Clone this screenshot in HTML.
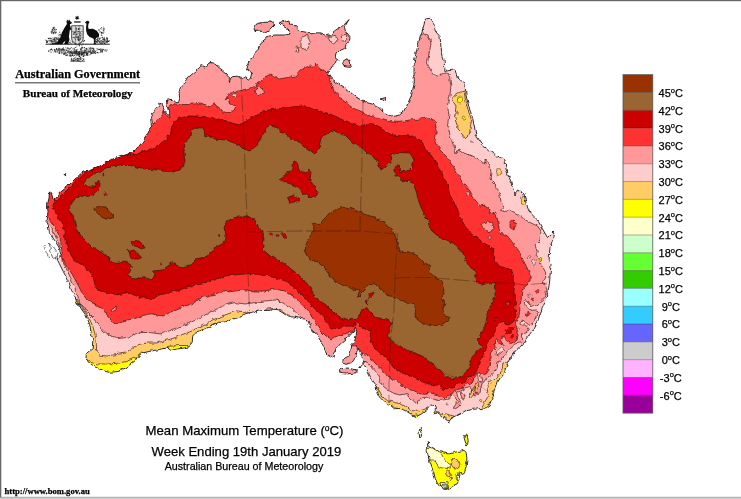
<!DOCTYPE html>
<html lang="en"><head><meta charset="utf-8"><title>Mean Maximum Temperature</title>
<style>
html,body{margin:0;padding:0;background:#fff;}
body{width:741px;height:499px;overflow:hidden;position:relative;font-family:"Liberation Sans",sans-serif;}
svg{position:absolute;left:0;top:0;display:block;}
text{font-family:"Liberation Sans",sans-serif;fill:#000;stroke:#000;stroke-width:0.25px;}
.serif{font-family:"Liberation Serif",serif;font-weight:bold;}
</style></head><body>
<svg width="741" height="499" viewBox="0 0 741 499">
<rect x="0" y="0" width="741" height="499" fill="#fff"/>

<defs><clipPath id="land"><path d="M146.5 136 L151.4 126.5 L150.6 116.7 L154.6 110.2 L160.3 102.9 L164.4 110.2 L169.2 117.5 L168.4 111 L166.8 103.7 L168.4 98.8 L173.3 100.5 L178.2 102.9 L179.8 98.8 L179 92.4 L180.6 86.7 L184.7 83.4 L187.9 77.7 L193.6 72.9 L197.6 69.6 L200.9 65.6 L205 67.2 L209.8 62.3 L213.9 63.1 L219.6 68 L226 72.9 L229.3 76.9 L229.3 82.6 L231.8 76.9 L237.4 76.1 L241.5 78.5 L245.6 76.9 L250.4 79.4 L252 72.9 L246.4 68.8 L248.8 63.1 L252 56.6 L257.5 51 L261 42.5 L269 36 L275 35 L285 35 L290 34 L288 28 L279 23 L289 20 L290 25 L297 26 L297.5 31 L307.5 32.5 L320 32.9 L326.5 36 L331.4 34.5 L336.2 30.4 L341 27.2 L346 23 L349 19.5 L344.4 27.2 L346 32.9 L350 37.7 L349.2 41.8 L346 44.2 L345.2 48.3 L341 50 L337 54 L336.2 58 L338.7 59.7 L336.2 62 L333 65.3 L329 71 L328 73.5 L332.2 79 L337.9 83.2 L344.4 87.3 L347 89.5 L352.5 94 L357 97.6 L362 100.5 L366.6 102.5 L372 104 L376.3 105.5 L380 107.5 L384.3 112.4 L388.3 114.9 L391.6 116.9 L395.6 116 L399.7 114.9 L402.9 112.4 L406.7 106 L411.5 95 L414.3 83 L414 72 L414.2 62 L416.6 50.7 L419 41 L421.5 32.9 L424 24.7 L425.5 19 L430.4 18.2 L433.7 23 L435.3 31.2 L440 36.5 L441 47.5 L444 60 L445 71 L455 70 L457.5 77.5 L465 84 L466 95 L469 107.5 L472.5 117.5 L475 130 L476 135 L482.5 145 L490 151 L497.5 156 L505 160 L506 169 L510 179 L512.5 187.5 L515 195 L517.5 190 L524 194 L526 202.5 L530 212.5 L537.5 220 L542.5 229 L547.5 237.5 L554 231 L552.5 240 L550 247.5 L549 260 L551 264.5 L550.3 272.5 L549.6 282 L548.3 290 L546.8 295 L545.2 301.6 L542.4 308.2 L539.7 314.8 L538 320.4 L534.7 327 L530.3 333.6 L525.9 340.2 L520.4 346.8 L517.5 348.7 L512 355.5 L508 362 L506 367.3 L504 372.6 L500.2 378 L497 383.2 L495 388.6 L492.8 393.9 L491.7 399.2 L489.6 404.5 L485.4 407.7 L480 408.7 L472.6 409.3 L466.2 410.9 L464.5 412 L456.4 416 L451 418.7 L448.5 424 L448.3 421.4 L444.2 418 L440.2 414.6 L437.5 412.6 L433.4 414 L435.5 409 L434 405.5 L430.5 405 L428.5 408 L426.7 410 L421.3 414 L416.6 416.7 L411.8 414.6 L406.4 411.3 L401 408.6 L394.3 408.6 L390.2 405.2 L384.8 402.5 L380.8 398.4 L376.7 391 L376 385 L373 381 L370.5 377 L368 372 L366 366.7 L363.4 365.3 L358.7 368 L361.4 364.7 L362.8 360.6 L362 356.6 L359.4 351.8 L357.8 347.8 L357 346 L357.5 350.5 L355.7 356.3 L353.4 360.8 L350.4 363 L346 364.3 L342.8 363.2 L343.2 359 L346.3 357.3 L349.2 355.8 L350.6 351.8 L351.3 348.5 L351.6 345 L354 342.4 L356 337 L356.7 331.6 L355.3 326.9 L354 330.2 L350.6 333.6 L346 339 L340.5 343.7 L335.8 349 L333 353 L334.4 358 L331 356.6 L327 354.5 L325 351 L323 346.4 L320.2 340.4 L317.5 335.6 L315.3 332.7 L312 330.6 L311.3 328.2 L310.5 325 L308.9 323.3 L308 321 L305.6 318.9 L302.4 318.9 L298.3 318 L294.3 316.9 L289.4 316.9 L286.2 315.2 L282 312.4 L278 310 L274 309.2 L270 310.4 L262.5 310.5 L250 312.5 L245 314 L235 318.5 L225 322 L217.5 322.5 L210 326 L200 331 L195 332.5 L192.7 337.4 L192 343.8 L188.7 347 L179 348.7 L170.8 350.3 L167.6 347.9 L159.4 349.5 L151.3 351 L143.2 352.8 L139 355.2 L135.9 360 L131 364 L125.3 368.2 L117.2 371.5 L109 372.3 L102.6 370.6 L94.5 366.6 L88 361.7 L86 356 L86.4 353.6 L92 348.7 L92.9 340.6 L91.2 332.5 L89.6 324.4 L86.4 316 L80.7 308 L79 303 L78 305 L74.7 296.4 L71.4 289.8 L69.2 283 L65.9 276.5 L62.5 270 L59.2 263.3 L57 259 L61.4 255.6 L59.2 247.9 L56 242.4 L51.5 235.8 L49.3 231.4 L48.2 225.9 L46.9 223.4 L47.4 218 L48 211.3 L47.4 204.5 L48.8 199 L49.4 193 L51.5 193.7 L53.5 200.5 L56.2 197.8 L60.2 192.4 L67 187 L72.4 181.6 L77.8 176.2 L83.2 172 L90 170.8 L96.7 168 L103.4 164 L110.2 160 L116 158 L122.5 156 L132.5 152.5 L140 145Z M254 29 L256.5 24 L262.5 22.5 L271 22 L275 25 L271 29 L266 32.5 L260 31 L255 31.5Z M342.7 61.3 L346.8 58.8 L350 60.5 L350.9 66.2 L347.6 66.2 L343.5 65.3Z M64.2 174 L66.4 173.6 L66.6 175.8 L64.4 176Z M380 99 L386 97.5 L385 101Z M339 370 L341.8 368.7 L347.2 368 L352.6 368.7 L357.4 370.7 L356 372.8 L351.3 373.4 L346 374 L340.5 373.4Z M419.5 429.2 L421.2 428.5 L422 431.3 L421.2 435.5 L419.8 437 L419.1 434Z M464 436.2 L465.4 435 L467.5 437.6 L468.2 440.4 L467.5 444.6 L466 446 L465.4 441.8 L464.4 439Z M428.2 442.5 L429 446 L432.4 447.4 L438 451 L443.7 453 L449.3 453.8 L454.9 452.3 L460.5 451 L464 450.2 L466 452.3 L466.8 456.6 L466.8 461.5 L465.8 467 L464.7 471.3 L462.6 474.8 L459.8 473.4 L458.4 476.2 L459 480.4 L457 484 L453.5 485.3 L452 488 L447.9 489.5 L443.7 489.2 L440.2 487.4 L437.3 483.2 L435.2 478.3 L433.8 472.7 L431.7 467 L429.6 461.5 L428 455.9 L427.1 450.2Z"/></clipPath><filter id="soft" x="-2%" y="-2%" width="104%" height="104%"><feGaussianBlur stdDeviation="0.45"/></filter><filter id="rough" x="-2%" y="-2%" width="104%" height="104%"><feTurbulence type="fractalNoise" baseFrequency="0.2" numOctaves="2" seed="3" result="n"/><feDisplacementMap in="SourceGraphic" in2="n" scale="4.2" xChannelSelector="R" yChannelSelector="G"/><feGaussianBlur stdDeviation="0.4"/></filter></defs>
<g filter="url(#rough)">
<g clip-path="url(#land)">
<path d="M146.5 136 L151.4 126.5 L150.6 116.7 L154.6 110.2 L160.3 102.9 L164.4 110.2 L169.2 117.5 L168.4 111 L166.8 103.7 L168.4 98.8 L173.3 100.5 L178.2 102.9 L179.8 98.8 L179 92.4 L180.6 86.7 L184.7 83.4 L187.9 77.7 L193.6 72.9 L197.6 69.6 L200.9 65.6 L205 67.2 L209.8 62.3 L213.9 63.1 L219.6 68 L226 72.9 L229.3 76.9 L229.3 82.6 L231.8 76.9 L237.4 76.1 L241.5 78.5 L245.6 76.9 L250.4 79.4 L252 72.9 L246.4 68.8 L248.8 63.1 L252 56.6 L257.5 51 L261 42.5 L269 36 L275 35 L285 35 L290 34 L288 28 L279 23 L289 20 L290 25 L297 26 L297.5 31 L307.5 32.5 L320 32.9 L326.5 36 L331.4 34.5 L336.2 30.4 L341 27.2 L346 23 L349 19.5 L344.4 27.2 L346 32.9 L350 37.7 L349.2 41.8 L346 44.2 L345.2 48.3 L341 50 L337 54 L336.2 58 L338.7 59.7 L336.2 62 L333 65.3 L329 71 L328 73.5 L332.2 79 L337.9 83.2 L344.4 87.3 L347 89.5 L352.5 94 L357 97.6 L362 100.5 L366.6 102.5 L372 104 L376.3 105.5 L380 107.5 L384.3 112.4 L388.3 114.9 L391.6 116.9 L395.6 116 L399.7 114.9 L402.9 112.4 L406.7 106 L411.5 95 L414.3 83 L414 72 L414.2 62 L416.6 50.7 L419 41 L421.5 32.9 L424 24.7 L425.5 19 L430.4 18.2 L433.7 23 L435.3 31.2 L440 36.5 L441 47.5 L444 60 L445 71 L455 70 L457.5 77.5 L465 84 L466 95 L469 107.5 L472.5 117.5 L475 130 L476 135 L482.5 145 L490 151 L497.5 156 L505 160 L506 169 L510 179 L512.5 187.5 L515 195 L517.5 190 L524 194 L526 202.5 L530 212.5 L537.5 220 L542.5 229 L547.5 237.5 L554 231 L552.5 240 L550 247.5 L549 260 L551 264.5 L550.3 272.5 L549.6 282 L548.3 290 L546.8 295 L545.2 301.6 L542.4 308.2 L539.7 314.8 L538 320.4 L534.7 327 L530.3 333.6 L525.9 340.2 L520.4 346.8 L517.5 348.7 L512 355.5 L508 362 L506 367.3 L504 372.6 L500.2 378 L497 383.2 L495 388.6 L492.8 393.9 L491.7 399.2 L489.6 404.5 L485.4 407.7 L480 408.7 L472.6 409.3 L466.2 410.9 L464.5 412 L456.4 416 L451 418.7 L448.5 424 L448.3 421.4 L444.2 418 L440.2 414.6 L437.5 412.6 L433.4 414 L435.5 409 L434 405.5 L430.5 405 L428.5 408 L426.7 410 L421.3 414 L416.6 416.7 L411.8 414.6 L406.4 411.3 L401 408.6 L394.3 408.6 L390.2 405.2 L384.8 402.5 L380.8 398.4 L376.7 391 L376 385 L373 381 L370.5 377 L368 372 L366 366.7 L363.4 365.3 L358.7 368 L361.4 364.7 L362.8 360.6 L362 356.6 L359.4 351.8 L357.8 347.8 L357 346 L357.5 350.5 L355.7 356.3 L353.4 360.8 L350.4 363 L346 364.3 L342.8 363.2 L343.2 359 L346.3 357.3 L349.2 355.8 L350.6 351.8 L351.3 348.5 L351.6 345 L354 342.4 L356 337 L356.7 331.6 L355.3 326.9 L354 330.2 L350.6 333.6 L346 339 L340.5 343.7 L335.8 349 L333 353 L334.4 358 L331 356.6 L327 354.5 L325 351 L323 346.4 L320.2 340.4 L317.5 335.6 L315.3 332.7 L312 330.6 L311.3 328.2 L310.5 325 L308.9 323.3 L308 321 L305.6 318.9 L302.4 318.9 L298.3 318 L294.3 316.9 L289.4 316.9 L286.2 315.2 L282 312.4 L278 310 L274 309.2 L270 310.4 L262.5 310.5 L250 312.5 L245 314 L235 318.5 L225 322 L217.5 322.5 L210 326 L200 331 L195 332.5 L192.7 337.4 L192 343.8 L188.7 347 L179 348.7 L170.8 350.3 L167.6 347.9 L159.4 349.5 L151.3 351 L143.2 352.8 L139 355.2 L135.9 360 L131 364 L125.3 368.2 L117.2 371.5 L109 372.3 L102.6 370.6 L94.5 366.6 L88 361.7 L86 356 L86.4 353.6 L92 348.7 L92.9 340.6 L91.2 332.5 L89.6 324.4 L86.4 316 L80.7 308 L79 303 L78 305 L74.7 296.4 L71.4 289.8 L69.2 283 L65.9 276.5 L62.5 270 L59.2 263.3 L57 259 L61.4 255.6 L59.2 247.9 L56 242.4 L51.5 235.8 L49.3 231.4 L48.2 225.9 L46.9 223.4 L47.4 218 L48 211.3 L47.4 204.5 L48.8 199 L49.4 193 L51.5 193.7 L53.5 200.5 L56.2 197.8 L60.2 192.4 L67 187 L72.4 181.6 L77.8 176.2 L83.2 172 L90 170.8 L96.7 168 L103.4 164 L110.2 160 L116 158 L122.5 156 L132.5 152.5 L140 145Z M254 29 L256.5 24 L262.5 22.5 L271 22 L275 25 L271 29 L266 32.5 L260 31 L255 31.5Z M342.7 61.3 L346.8 58.8 L350 60.5 L350.9 66.2 L347.6 66.2 L343.5 65.3Z M64.2 174 L66.4 173.6 L66.6 175.8 L64.4 176Z M380 99 L386 97.5 L385 101Z M339 370 L341.8 368.7 L347.2 368 L352.6 368.7 L357.4 370.7 L356 372.8 L351.3 373.4 L346 374 L340.5 373.4Z M419.5 429.2 L421.2 428.5 L422 431.3 L421.2 435.5 L419.8 437 L419.1 434Z M464 436.2 L465.4 435 L467.5 437.6 L468.2 440.4 L467.5 444.6 L466 446 L465.4 441.8 L464.4 439Z M428.2 442.5 L429 446 L432.4 447.4 L438 451 L443.7 453 L449.3 453.8 L454.9 452.3 L460.5 451 L464 450.2 L466 452.3 L466.8 456.6 L466.8 461.5 L465.8 467 L464.7 471.3 L462.6 474.8 L459.8 473.4 L458.4 476.2 L459 480.4 L457 484 L453.5 485.3 L452 488 L447.9 489.5 L443.7 489.2 L440.2 487.4 L437.3 483.2 L435.2 478.3 L433.8 472.7 L431.7 467 L429.6 461.5 L428 455.9 L427.1 450.2Z" fill="#FFCCCC"/>
<polygon points="428.2,442.5 429,446 432.4,447.4 438,451 443.7,453 449.3,453.8 454.9,452.3 460.5,451 464,450.2 466,452.3 466.8,456.6 466.8,461.5 465.8,467 464.7,471.3 462.6,474.8 459.8,473.4 458.4,476.2 459,480.4 457,484 453.5,485.3 452,488 447.9,489.5 443.7,489.2 440.2,487.4 437.3,483.2 435.2,478.3 433.8,472.7 431.7,467 429.6,461.5 428,455.9 427.1,450.2" fill="#FFFF00" stroke="none" stroke-width="0.65" stroke-linejoin="round" />
<polygon points="464,436.2 465.4,435 467.5,437.6 468.2,440.4 467.5,444.6 466,446 465.4,441.8 464.4,439" fill="#FFFF00" stroke="none" stroke-width="0.65" stroke-linejoin="round" />
<polygon points="419.5,429.2 421.2,428.5 422,431.3 421.2,435.5 419.8,437 419.1,434" fill="#FFFFCC" stroke="none" stroke-width="0.65" stroke-linejoin="round" />
<polygon points="426,446 428,447.4 432.4,448 438,451.6 441.6,454.5 443.7,458 446.5,461.5 450.7,465 451.4,467.5 448,468.5 443.7,468 439,467 437,464 435.2,461 431.5,461 428.5,458.5 425,452" fill="#FFFFCC" stroke="#30100a" stroke-width="0.65" stroke-linejoin="round" />
<polygon points="450.7,460 453.5,458 457,459.4 459.8,464.3 458.4,467 454.9,469.2 452.8,466.4 451.4,462.9" fill="#FFCC66" stroke="#30100a" stroke-width="0.65" stroke-linejoin="round" />
<polygon points="445.8,471.3 448.6,469.9 450.7,472 450,475.5 447.2,476.2 445.8,474" fill="#FFCC66" stroke="#30100a" stroke-width="0.65" stroke-linejoin="round" />
<polygon points="450,476.9 452,476.2 452.8,479 451.4,480.4 450,479" fill="#FFCC66" stroke="#30100a" stroke-width="0.65" stroke-linejoin="round" />
<polygon points="456.3,473.4 458.4,472.7 459,478.3 457.7,481 456.3,479" fill="#FFFFCC" stroke="#30100a" stroke-width="0.65" stroke-linejoin="round" />
<polygon points="440.2,482.5 447.9,482.5 448.6,487.4 445,488.8 440.9,487.4" fill="#FFFFCC" stroke="#30100a" stroke-width="0.65" stroke-linejoin="round" />
<polygon points="442.5,484.2 447.2,484.2 447.6,487.4 445,488 443,486.7" fill="#CCFFCC" stroke="#30100a" stroke-width="0.65" stroke-linejoin="round" />
<polygon points="444.8,485.8 446.8,485.8 446.8,487.5 444.8,487.5" fill="#66FF33" stroke="#30100a" stroke-width="0.65" stroke-linejoin="round" />
<polygon points="76,299 79.5,302 83,309 88.6,317.3 92.6,325.6 95,334 96.3,342.2 96.6,350.3 99.4,355.2 107.5,356 117.2,354.4 127,352.8 132.6,348.7 138.3,344.7 146.5,343 156.2,343 166,340.6 175.7,337.4 185.4,333.3 195,329.2 205,325 212.5,320 225,315 235,311.4 242,312.6 247.8,312 252,318 230,330 200,345 130,385 75,375 70,300" fill="#FFCC66" stroke="#30100a" stroke-width="0.65" stroke-linejoin="round" />
<polygon points="84,355 88,359.3 91.2,362.5 97.7,364 107.5,364 117.2,363.3 125.3,361.7 131.8,359.3 135.9,356.8 139,354.4 141.6,352 146,353 140,365 110,380 84,370" fill="#FFFF00" stroke="#30100a" stroke-width="0.65" stroke-linejoin="round" />
<polygon points="168.4,346.3 178,345.6 187,345.5 190,348 188,352 168,352" fill="#FFFF00" stroke="#30100a" stroke-width="0.65" stroke-linejoin="round" />
<polygon points="266,309 273.6,308.5 272,312 266,312" fill="#FFCC66" stroke="#30100a" stroke-width="0.65" stroke-linejoin="round" />
<polygon points="279,309.2 282,310.8 286.2,313.6 290.4,316.3 289,319 278,312" fill="#FFCC66" stroke="#30100a" stroke-width="0.65" stroke-linejoin="round" />
<polygon points="338,369 342.5,368 342,375 338,375" fill="#FFCC66" stroke="#30100a" stroke-width="0.65" stroke-linejoin="round" />
<polygon points="354,369 358,370 357,374 353.5,374" fill="#FFCC66" stroke="#30100a" stroke-width="0.65" stroke-linejoin="round" />
<polygon points="327,353 331,355.2 335,357 335,360 326,357" fill="#FFCC66" stroke="#30100a" stroke-width="0.65" stroke-linejoin="round" />
<polygon points="454,96 459,92.5 464,91 465.5,100 468,110 471.5,120 470,130 468.5,136.5 466,139 464.4,137.3 462,134 458,130 457.5,122.5 455,115 456,106 452.5,100" fill="#FFCC66" stroke="#30100a" stroke-width="0.65" stroke-linejoin="round" />
<polygon points="372,385 376,385.6 379.4,391 382.8,397 387.5,400.5 394.3,402.5 401,403.8 406.4,407.2 411.8,410.6 417.2,411.3 422.6,410 428,407.9 436,411.3 440.2,412.6 445.6,414 451,415.3 455,416 456,425 440,432 370,415" fill="#FFCC66" stroke="#30100a" stroke-width="0.65" stroke-linejoin="round" />
<polygon points="502.9,363 502.4,368.4 500.2,372.6 497,376.9 493.9,380 491.7,382.2 489.6,380 487.5,381 488,385.4 486.4,389.6 487,393.3 488.6,395 486.4,399.2 483.2,404.5 481,408.2 481,415 515,415 515,360" fill="#FFCC66" stroke="#30100a" stroke-width="0.65" stroke-linejoin="round" />
<polygon points="40,222 48.2,223.7 51.5,228 54.8,234.7 58,242.4 59.7,246.8 62.5,250 63,256 63,261 64.8,265.5 69.3,275.2 73.6,285.2 77,294 80,302.5 84.7,309.7 92.9,317.9 99.4,326 104.2,332.5 112.4,336.5 122,338.2 130.2,336.5 140,332.5 149.7,332.5 161,334 169.2,330.9 179,326.8 188.7,323.5 195,320.3 200,317.5 210,312.5 220,307.5 225,305 235,302.5 245,304 255,302.5 265,301 275,300 279.7,301 284.6,304 289.4,307 294.3,310.8 298.3,314.4 301.2,317.7 302.4,320 300,330 314,365 335,382 360,382 362,366 363.4,364 364,361.3 367.5,362.6 371.5,366.7 375.6,371.4 378.5,377 380,381 382.5,385.5 387.5,389.7 393,393 399.7,395 403.7,394.4 407,393.7 408.5,397 413.2,400.5 416.6,403.8 418.6,401 422.6,397.8 428,397 433.4,399 438.8,400.5 444.2,399.8 449.6,399 451,394 459.9,391 464,389.5 469.4,387 472,390 473.7,393.9 474.7,396 478,395 480,391.7 481,387.5 482.2,383.2 485.4,380 488.6,378 491.7,374.7 495,371.6 497,367.3 498,362 501.3,361 505.3,355.5 509.4,348.7 514.8,344 520,343 526,342 523,339 521.5,336.9 521.5,332.5 523.7,333.6 527,332.5 529.2,329.2 527.5,327 524.8,324.8 522,325.3 519.8,323.7 520.9,321.5 523.7,320.4 525.9,322.6 529.2,325.3 532,324.2 533.6,321.5 535.8,317 537.4,313.7 539,311.5 536.3,309.9 532.5,310.4 528,308.8 525.3,305.5 524.2,301.6 525.5,299.5 527,300.5 529.2,304.4 533,306 536.9,305 540.2,302.2 543.5,299.4 545,295.5 547,290 545.6,285 541.5,283 543.5,280.6 545.6,278 545.6,272.5 542.9,267 538.8,260.4 536,255 537.5,252.5 535,245 540,240 541,231 537.5,226 530,222.5 524,219 517.5,214 510,210 505,212.5 501,211 504,207.5 501,202.5 500,195 496,185 490,179 491,172.5 490,165 485,159 485,164 477.5,159 467.5,154 459,149 456,154 454,145 450,135 447.5,125 449,115 447.5,105 450,95 451,85 449,74 445,72.5 437.5,76 432.5,74 427.5,64 429,54 431,44 429,36 424,34 420,32 400,0 140,0 40,180" fill="#FF9999" stroke="#30100a" stroke-width="0.65" stroke-linejoin="round" />
<polygon points="40,215 48.2,218 52.6,223.7 57,231.4 60.3,239 61.4,247.9 62.5,256.7 66,265.5 72,274 77,283 81.5,292 87,300 96,304.9 104.2,309.7 107.5,316.2 114,323.5 123.7,321 133.5,318.7 143.2,315.4 151.3,313.8 162.7,316.2 169.2,313 179,309 188.7,304.9 195,301.6 202.5,297.5 215,294 225,290.5 235,291 245,290 255,291 265,291 275,289 285,291 295,297.5 302.5,305 310,314 316,324 321,331 326,336 331,339 337.5,336 344,334 350,332.5 355,330 352,340 350,346 356.7,345.8 360,350.5 362,354.5 366,353.9 370.2,356.6 374.2,362 378.3,366.7 382.3,370.7 386.4,374.8 387.7,377 393,379.5 398.3,382.2 403.7,386.3 409,389 414.5,391 420,393.7 425.3,394.4 430.7,393 436,394.4 440.2,396.4 445.6,397.8 448.2,396 452.4,392.8 455.6,390 459.9,389 464,387.5 465.2,384.8 467.3,382.2 469.4,384.8 471.6,383.2 473.7,379 475.8,376.9 476.9,373.7 479,371.6 481,372.6 484.3,374.7 486.4,373.7 488.6,370.5 490,366.2 490.7,362 489.8,359.5 490.5,354 493.2,350.8 495.2,347.4 494.5,342 496.6,338.6 498.6,342 501,344.5 503.8,344 501.3,340 503.8,335.8 505.5,338.5 507,341.9 510.4,343.5 513.7,342.4 517,340.2 518.2,335.8 517,332.5 517.6,328 516,325.9 516.5,321.5 518.7,317 519.8,311.5 519.8,306 521,300.5 521.5,295 522,290 523.3,289.4 526,286.7 528,282 531.4,278 530,274 526.7,267 523.3,260.4 521,255 517.5,249 512.5,242.5 507.5,236 500,234 499,227.5 497.5,219 494,212.5 489,214 490,209 485,205 480,206 475,200 470,191 465,185 460,177.5 452.5,165 447.5,157.5 440,150 435,142.5 436,135 436,127.5 435,121 430,117.5 420,119 411.8,119.7 403.7,121 396.4,121.3 389,120.5 382.7,118.9 376.2,116.9 370.5,115.3 366.5,115.7 363.2,112.4 360,110.8 355,109 350,106 342.5,100 335,92.5 330,82.5 329,75 325,71 320,69 316,64 314,66 307.5,66 300,70 295,76 287.5,77.5 279,79 274,76 271,74 269,75 264,77.5 260,82.5 252.5,87.5 242.5,90 237.4,91.5 231,93.2 227.7,95.6 225.3,99.7 228.5,98.8 229.3,103.7 232.6,105.3 235.8,106 234.2,110.2 229.3,112.6 222.8,111.8 218,107.8 214.7,103.7 209.8,107 205,104.5 196.8,103.7 188.7,104.5 180.6,104.5 174,103.7 168.4,107 169.5,112 170,119 166,117 164.4,110.2 162.7,113.5 156,121.5 151.4,126.5 148,132 146.5,136 138,132 40,185" fill="#FF3333" stroke="#30100a" stroke-width="0.65" stroke-linejoin="round" />
<polygon points="167.5,135 165,141 157.5,146 147.5,150 140,152.5 132.5,155 126,153 100,160 88,168 84.5,172.8 79,177.5 73.7,183 69.7,188.3 65.6,192.4 60.2,197 56.2,199.8 53.5,201.8 52.8,207.2 55.5,212.6 58.2,218 61.6,223.4 63.6,227 65,240 68,250 74,260 86,267.5 92.5,275 95,285 99,291 107.5,292.5 117.5,295 127.5,292.5 140,297.5 150,299 160,295 170,292.5 180,290 190,286 202.5,284 215,280 225,276 235,275 245,274 255,274 265,276 275,277.5 285,281 292.5,286 300,294 307.5,301 315,309 322.5,316 327.5,324 330,327.5 337.5,329 346,326.2 354,326.2 356,322.8 358.7,322 360,326.2 363.4,328.2 367.5,330.2 370.9,331 370.2,335 371.5,341 373.5,346.4 378.3,351.8 383.7,355.9 389,361.3 394.3,367.4 399.7,371.4 406.4,374.8 413.2,377.5 420,380.9 426.7,383.6 433.4,385 438.8,385.6 441.5,388.3 445,389.6 447,390 450.3,387.5 454.6,386.4 455.6,384.3 459.9,382.2 464,383.2 466.2,381 469.4,378 472.6,376.9 475.8,373.7 476.3,370.5 479,366.2 480,362 481.7,358 485,351.4 487,346 489,340.6 493.2,335.2 495.9,329.8 495,328 496.7,325.3 499.4,322.6 502.7,321.5 505,323.7 508.2,325.3 512.6,322.6 515.4,319.3 516,314.8 514.8,308.2 515.4,301.6 515.4,295 513.9,292.8 514.5,286 513.2,280.6 513.2,274 510.5,269.8 505,267.8 499,265.8 495.6,260.4 493,255 494,249 487.5,245 480,240 472.5,234 466,227.5 461,219 457.5,210 454,202.5 450,195 447.5,185 442.5,175 437.5,165 431,155 425,147.5 420,139.5 416.7,137.5 411.8,135.9 405.3,135.5 398.9,135.5 392.4,134.7 386.7,132.3 381,128.6 374.6,125 369.7,123 364.9,124.6 360,126.5 355,124 349.6,122 340,119 330,115 320,111 310,107.5 300,106 287.5,107.5 275,109 262.5,111 253.7,116.7 245.6,121.6 239,124.8 232.6,123.2 226,120.8 216.3,118.3 206.6,116.7 196.8,116 187,116 177.4,119 171.7,126.5 170,136" fill="#CC0000" stroke="#30100a" stroke-width="0.65" stroke-linejoin="round" />
<polygon points="191,136 192,129.7 196,127.7 202.5,128 204,131.3 205,136 207.5,135 215,139 225,140 240,145 244,149 250,151 257.5,145 262.5,135 269,125 275,126 282.5,132.5 287.5,135 291,139 300,142.5 307.5,149 315,154 319,147.5 321,140 322.5,135 325,135 332.5,130 342.5,135 345,135 352.5,142.5 362.5,149 372.5,156 377.5,162.5 381,170 387.5,165 391,160 390,155 400,152.5 410,153 414,160 412.5,167.5 410,170 401,172.5 399,165 394,167.5 394,172.5 397.5,176 404,181 410,180 415,187.5 417.5,197.5 421,207.5 425,215 429,222.5 431,230 437.5,236 447.5,241 456,245 460,250 464,256 466,261 470,267.8 474,269.8 476,276.6 476.7,282.7 482,284 489,284 495,282 495.6,287.4 495,295.5 493,302 489.6,307.6 487.5,313 486,322 485.8,323 482.4,331 478.3,338 479,344 482.4,346.7 477,351.4 471.6,358 469.6,366.3 466.2,371.6 462,375.8 455.6,378.5 450.3,378 445,375.8 440.2,370 434.8,366 429.4,362 425,357.5 417.5,354 410,351 405,349 397.5,345 391,340 387.5,335 390,329 392.5,322.5 387.5,320 380,319 372.5,316 369,310 365,307.5 360,314 356,319 350,319.5 342.5,319 336,315 330,309 325,304 317.5,300 312.5,292.5 307.5,284 300,276 292.5,270 285,264 277.5,260 269,255 262.5,249 264,240 262.5,231 259,227.5 255,220 247.5,216 235,217.5 227,221 224,228 226,236 225,242.5 215,247.5 210,252.5 205,258 195,260 190,265 180,267.5 172.5,262.5 162.5,270 152.5,271 155,274 152.5,280 145,277.5 135,279 127.5,275 132.5,266 125,261 115,262.5 110,260 105,255 97.5,250 90,245 82.5,237.5 77.5,231 76.4,227 75.8,223.4 73.7,218 71,213.3 68.3,209.3 71,204.5 75,199 79,195 85.9,196.4 92,195.8 96.7,192.4 99.4,188.3 100,183.6 98.7,180.2 96.7,182.3 95.3,186.3 91.3,187 86.6,186.3 83.2,185 84.5,182.3 88.6,177.5 93.3,174.2 98,172.8 103.4,169.4 110.2,166 120,165 132.5,166 145,169 157.5,170 170,172.5 180,170 185,162.5 184,152.5 185,142.5" fill="#996633" stroke="#30100a" stroke-width="0.65" stroke-linejoin="round" />
<polygon points="310,260 305,250 307.5,240 312.5,232.5 315,227.5 311,224.5 314,223 319,225 324,219 330,212.5 337.5,209 345,207 352.5,209 360,212.5 367.5,215 377.5,219 385,222.5 391,229 395,235 397.5,245 400,251 410,252 418,256 421,260 424,264 429,264 430,272.5 435,277.5 441,281 444,290 442.5,297.5 445,304 442.5,310 445,316 450,317.5 447.5,321 440,325 432.5,326 424,324 417.5,320 415,314 416,307.5 414,302.5 410,303 405,302 397.5,299 387.5,295 380,289 375,284 369,285 364,291 357.5,297.5 360,290 352.5,289 344,286 335,281 327.5,272.5 322.5,265" fill="#993300" stroke="#30100a" stroke-width="0.65" stroke-linejoin="round" />
<polygon points="93.3,208 98,206.6 106,207 108.2,210.6 112.2,214 112.9,217.4 107.5,219.4 102,217.4 98,213.3 94.7,210.6" fill="#993300" stroke="#30100a" stroke-width="0.65" stroke-linejoin="round" />
<polygon points="279,179 285,175 292.5,170 294,161 297.5,162.5 299,170 305,174 309,169 311,172.5 310,180 314,186 319,192.5 316,196 309,197.5 304,194 299,187.5 291,184 284,182.5" fill="#CC0000" stroke="#30100a" stroke-width="0.65" stroke-linejoin="round" />
<polygon points="287.5,197.5 294,195 300,199 296,201 290,203" fill="#CC0000" stroke="#30100a" stroke-width="0.65" stroke-linejoin="round" />
<polygon points="131,242.5 136.4,240.8 142.5,244 145,248 141.3,248.8 136.4,246.4 132.8,245.6" fill="#CC0000" stroke="#30100a" stroke-width="0.65" stroke-linejoin="round" />
<polygon points="128,250.5 132.8,249.3 137.6,253 141.3,257.8 138.9,259 134,259 130.4,256.6" fill="#CC0000" stroke="#30100a" stroke-width="0.65" stroke-linejoin="round" />
<polygon points="369,294 374,291 372.5,296 369.5,299" fill="#CC0000" stroke="#30100a" stroke-width="0.65" stroke-linejoin="round" />
<polygon points="366,301 368,300 367.5,305" fill="#CC0000" stroke="#30100a" stroke-width="0.65" stroke-linejoin="round" />
<polygon points="255,90 259,86 265,92.5 257.5,96" fill="#FF9999" stroke="#30100a" stroke-width="0.65" stroke-linejoin="round" />
<polygon points="481,224 487.5,221 492.5,222.5 494,229 491,232.5 486,229 482.5,227.5" fill="#FF9999" stroke="#30100a" stroke-width="0.65" stroke-linejoin="round" />
<polygon points="111,309 116,306 116,310 112.5,312.5" fill="#FF9999" stroke="#30100a" stroke-width="0.65" stroke-linejoin="round" />
<polygon points="510,222.5 514,220 516,225 514,230 510,227.5" fill="#FF3333" stroke="#30100a" stroke-width="0.65" stroke-linejoin="round" />
<polygon points="301,37.5 307.5,35 310,42.5 306,50 301,47.5" fill="#FFCCCC" stroke="#30100a" stroke-width="0.65" stroke-linejoin="round" />
<polygon points="296,47.5 298,47 299,52 297,52" fill="#FFCCCC" stroke="#30100a" stroke-width="0.65" stroke-linejoin="round" />
<polygon points="328,37 335.4,35.3 337,40.2 334.6,43.4 329.7,41" fill="#FFCCCC" stroke="#30100a" stroke-width="0.65" stroke-linejoin="round" />
<polygon points="341,35.3 346,34.5 346.8,39.4 344.4,41.8 342,39.4" fill="#FFCCCC" stroke="#30100a" stroke-width="0.65" stroke-linejoin="round" />
<polygon points="505,330.3 509.3,327.5 513.2,327.5 513.7,330.3 510.4,333 506,334" fill="#CC0000" stroke="#30100a" stroke-width="0.65" stroke-linejoin="round" />
<polygon points="525.3,313.2 529.2,312.6 530.8,314.3 528,316.5 525.9,316" fill="#FF3333" stroke="#30100a" stroke-width="0.65" stroke-linejoin="round" />
<polygon points="505.5,301.6 509.9,301 509.3,305.5 506.6,305" fill="#FF3333" stroke="#30100a" stroke-width="0.65" stroke-linejoin="round" />
<polygon points="493.6,317 497,317 497,320.5 495,319.8" fill="#FF3333" stroke="#30100a" stroke-width="0.65" stroke-linejoin="round" />
<polygon points="494.5,354 497.2,350 501.3,346.7 504,347.4 503.3,350.8 500,353.5 497.2,356" fill="#FFCCCC" stroke="#30100a" stroke-width="0.65" stroke-linejoin="round" />
<polygon points="477.4,372.6 479.5,371.6 480.6,375.8 481.6,380 481,383.2 479,382.2 478,378" fill="#FFCCCC" stroke="#30100a" stroke-width="0.65" stroke-linejoin="round" />
<polygon points="451.4,392.8 454.6,390.7 456.7,392.8 457.7,397 459.9,400.2 460.9,403.4 458.8,406.6 455.6,408.7 453.5,407.7 455.6,404.5 456.7,401.3 454.6,398.1 452.4,396" fill="#FF9999" stroke="#30100a" stroke-width="0.65" stroke-linejoin="round" />
<polygon points="460.9,391.7 464,393.9 465.2,397 463.6,399.2 461.5,397 460.4,393.9" fill="#FF9999" stroke="#30100a" stroke-width="0.65" stroke-linejoin="round" />
<polygon points="468.9,395 471.6,392.8 473.7,388.6 475.8,384.3 477.9,382.7 478.5,384.8 476.3,388.6 474.2,392.8 471.6,396 470,397.6" fill="#FFCC66" stroke="#30100a" stroke-width="0.65" stroke-linejoin="round" />
<polygon points="473.2,388 474.7,387 474.2,390.2 472.8,390.7" fill="#FFFF00" stroke="#30100a" stroke-width="0.65" stroke-linejoin="round" />
<ellipse cx="235" cy="95.6" rx="1.8" ry="1.8" fill="#FFCCCC" stroke="#40201a" stroke-width="0.5"/>
<ellipse cx="105.5" cy="194" rx="1.6" ry="1.6" fill="#CC0000" stroke="#40201a" stroke-width="0.5"/>
<ellipse cx="102.8" cy="175" rx="1.1" ry="1.1" fill="#CC0000" stroke="#40201a" stroke-width="0.5"/>
<ellipse cx="65.4" cy="174.8" rx="1.2" ry="1.2" fill="#FF3333" stroke="#40201a" stroke-width="0.5"/>
<ellipse cx="219" cy="236" rx="1.5" ry="1.5" fill="#CC0000" stroke="#40201a" stroke-width="0.5"/>
<ellipse cx="271" cy="234.5" rx="1.5" ry="1.5" fill="#CC0000" stroke="#40201a" stroke-width="0.5"/>
<ellipse cx="278" cy="235.5" rx="1" ry="1" fill="#CC0000" stroke="#40201a" stroke-width="0.5"/>
<ellipse cx="284" cy="235.5" rx="2.5" ry="2" fill="#CC0000" stroke="#40201a" stroke-width="0.5"/>
<ellipse cx="161.4" cy="263.9" rx="1" ry="1" fill="#CC0000" stroke="#40201a" stroke-width="0.5"/>
<ellipse cx="468" cy="194" rx="1.5" ry="2.5" fill="#FF9999" stroke="#40201a" stroke-width="0.5"/>
<ellipse cx="489.5" cy="237.5" rx="1.5" ry="1.5" fill="#FF9999" stroke="#40201a" stroke-width="0.5"/>
<ellipse cx="460" cy="100" rx="2.5" ry="4" fill="#FFFF00" stroke="#40201a" stroke-width="0.5"/>
<ellipse cx="464" cy="118" rx="2" ry="2" fill="#FFFF00" stroke="#40201a" stroke-width="0.5"/>
<ellipse cx="458" cy="112.5" rx="1.5" ry="1.5" fill="#FF9999" stroke="#40201a" stroke-width="0.5"/>
<ellipse cx="499" cy="172" rx="2.5" ry="3.5" fill="#FFCC66" stroke="#40201a" stroke-width="0.5"/>
<ellipse cx="524" cy="201" rx="2.5" ry="4.5" fill="#FFCC66" stroke="#40201a" stroke-width="0.5"/>
<ellipse cx="471" cy="141" rx="1.5" ry="1" fill="#FFCC66" stroke="#40201a" stroke-width="0.5"/>
<ellipse cx="529.5" cy="211" rx="1.5" ry="1" fill="#FFCC66" stroke="#40201a" stroke-width="0.5"/>
<ellipse cx="541" cy="259" rx="1.5" ry="1.5" fill="#FFCC66" stroke="#40201a" stroke-width="0.5"/>
<ellipse cx="512.9" cy="336.3" rx="1.7" ry="1.7" fill="#CC0000" stroke="#40201a" stroke-width="0.5"/>
<ellipse cx="518.2" cy="328.6" rx="1.5" ry="1.5" fill="#FFCCCC" stroke="#40201a" stroke-width="0.5"/>
<ellipse cx="529.6" cy="295.5" rx="1.5" ry="1.5" fill="#FFCCCC" stroke="#40201a" stroke-width="0.5"/>
<ellipse cx="528.7" cy="257" rx="1.3" ry="1.3" fill="#FFCCCC" stroke="#40201a" stroke-width="0.5"/>
<ellipse cx="533.4" cy="262.4" rx="2" ry="3.3" fill="#FFCCCC" stroke="#40201a" stroke-width="0.5"/>
<ellipse cx="537.5" cy="290.8" rx="1.5" ry="1.5" fill="#FF3333" stroke="#40201a" stroke-width="0.5"/>
<ellipse cx="532" cy="300" rx="1" ry="1" fill="#FF3333" stroke="#40201a" stroke-width="0.5"/>
<ellipse cx="541.5" cy="258.8" rx="1.2" ry="1.2" fill="#FFFF00" stroke="#40201a" stroke-width="0.5"/>
<ellipse cx="377.4" cy="391" rx="1.5" ry="1.5" fill="#FFFF00" stroke="#40201a" stroke-width="0.5"/>
<ellipse cx="394.3" cy="407.9" rx="1.5" ry="1.5" fill="#FFFF00" stroke="#40201a" stroke-width="0.5"/>
<ellipse cx="416.6" cy="416" rx="1.5" ry="1.5" fill="#FFFF00" stroke="#40201a" stroke-width="0.5"/>
<ellipse cx="448.3" cy="422.7" rx="1.2" ry="1.2" fill="#FFFF00" stroke="#40201a" stroke-width="0.5"/>
<ellipse cx="480.6" cy="400.8" rx="1.3" ry="1.3" fill="#FFCC66" stroke="#40201a" stroke-width="0.5"/>
<ellipse cx="457.2" cy="401.8" rx="1.3" ry="1.3" fill="#FFCC66" stroke="#40201a" stroke-width="0.5"/>
<ellipse cx="447" cy="405" rx="1" ry="1" fill="#FFCC66" stroke="#40201a" stroke-width="0.5"/>
<ellipse cx="476.9" cy="392.8" rx="1" ry="1" fill="#FF3333" stroke="#40201a" stroke-width="0.5"/>
</g>
<path d="M146.5 136 L151.4 126.5 L150.6 116.7 L154.6 110.2 L160.3 102.9 L164.4 110.2 L169.2 117.5 L168.4 111 L166.8 103.7 L168.4 98.8 L173.3 100.5 L178.2 102.9 L179.8 98.8 L179 92.4 L180.6 86.7 L184.7 83.4 L187.9 77.7 L193.6 72.9 L197.6 69.6 L200.9 65.6 L205 67.2 L209.8 62.3 L213.9 63.1 L219.6 68 L226 72.9 L229.3 76.9 L229.3 82.6 L231.8 76.9 L237.4 76.1 L241.5 78.5 L245.6 76.9 L250.4 79.4 L252 72.9 L246.4 68.8 L248.8 63.1 L252 56.6 L257.5 51 L261 42.5 L269 36 L275 35 L285 35 L290 34 L288 28 L279 23 L289 20 L290 25 L297 26 L297.5 31 L307.5 32.5 L320 32.9 L326.5 36 L331.4 34.5 L336.2 30.4 L341 27.2 L346 23 L349 19.5 L344.4 27.2 L346 32.9 L350 37.7 L349.2 41.8 L346 44.2 L345.2 48.3 L341 50 L337 54 L336.2 58 L338.7 59.7 L336.2 62 L333 65.3 L329 71 L328 73.5 L332.2 79 L337.9 83.2 L344.4 87.3 L347 89.5 L352.5 94 L357 97.6 L362 100.5 L366.6 102.5 L372 104 L376.3 105.5 L380 107.5 L384.3 112.4 L388.3 114.9 L391.6 116.9 L395.6 116 L399.7 114.9 L402.9 112.4 L406.7 106 L411.5 95 L414.3 83 L414 72 L414.2 62 L416.6 50.7 L419 41 L421.5 32.9 L424 24.7 L425.5 19 L430.4 18.2 L433.7 23 L435.3 31.2 L440 36.5 L441 47.5 L444 60 L445 71 L455 70 L457.5 77.5 L465 84 L466 95 L469 107.5 L472.5 117.5 L475 130 L476 135 L482.5 145 L490 151 L497.5 156 L505 160 L506 169 L510 179 L512.5 187.5 L515 195 L517.5 190 L524 194 L526 202.5 L530 212.5 L537.5 220 L542.5 229 L547.5 237.5 L554 231 L552.5 240 L550 247.5 L549 260 L551 264.5 L550.3 272.5 L549.6 282 L548.3 290 L546.8 295 L545.2 301.6 L542.4 308.2 L539.7 314.8 L538 320.4 L534.7 327 L530.3 333.6 L525.9 340.2 L520.4 346.8 L517.5 348.7 L512 355.5 L508 362 L506 367.3 L504 372.6 L500.2 378 L497 383.2 L495 388.6 L492.8 393.9 L491.7 399.2 L489.6 404.5 L485.4 407.7 L480 408.7 L472.6 409.3 L466.2 410.9 L464.5 412 L456.4 416 L451 418.7 L448.5 424 L448.3 421.4 L444.2 418 L440.2 414.6 L437.5 412.6 L433.4 414 L435.5 409 L434 405.5 L430.5 405 L428.5 408 L426.7 410 L421.3 414 L416.6 416.7 L411.8 414.6 L406.4 411.3 L401 408.6 L394.3 408.6 L390.2 405.2 L384.8 402.5 L380.8 398.4 L376.7 391 L376 385 L373 381 L370.5 377 L368 372 L366 366.7 L363.4 365.3 L358.7 368 L361.4 364.7 L362.8 360.6 L362 356.6 L359.4 351.8 L357.8 347.8 L357 346 L357.5 350.5 L355.7 356.3 L353.4 360.8 L350.4 363 L346 364.3 L342.8 363.2 L343.2 359 L346.3 357.3 L349.2 355.8 L350.6 351.8 L351.3 348.5 L351.6 345 L354 342.4 L356 337 L356.7 331.6 L355.3 326.9 L354 330.2 L350.6 333.6 L346 339 L340.5 343.7 L335.8 349 L333 353 L334.4 358 L331 356.6 L327 354.5 L325 351 L323 346.4 L320.2 340.4 L317.5 335.6 L315.3 332.7 L312 330.6 L311.3 328.2 L310.5 325 L308.9 323.3 L308 321 L305.6 318.9 L302.4 318.9 L298.3 318 L294.3 316.9 L289.4 316.9 L286.2 315.2 L282 312.4 L278 310 L274 309.2 L270 310.4 L262.5 310.5 L250 312.5 L245 314 L235 318.5 L225 322 L217.5 322.5 L210 326 L200 331 L195 332.5 L192.7 337.4 L192 343.8 L188.7 347 L179 348.7 L170.8 350.3 L167.6 347.9 L159.4 349.5 L151.3 351 L143.2 352.8 L139 355.2 L135.9 360 L131 364 L125.3 368.2 L117.2 371.5 L109 372.3 L102.6 370.6 L94.5 366.6 L88 361.7 L86 356 L86.4 353.6 L92 348.7 L92.9 340.6 L91.2 332.5 L89.6 324.4 L86.4 316 L80.7 308 L79 303 L78 305 L74.7 296.4 L71.4 289.8 L69.2 283 L65.9 276.5 L62.5 270 L59.2 263.3 L57 259 L61.4 255.6 L59.2 247.9 L56 242.4 L51.5 235.8 L49.3 231.4 L48.2 225.9 L46.9 223.4 L47.4 218 L48 211.3 L47.4 204.5 L48.8 199 L49.4 193 L51.5 193.7 L53.5 200.5 L56.2 197.8 L60.2 192.4 L67 187 L72.4 181.6 L77.8 176.2 L83.2 172 L90 170.8 L96.7 168 L103.4 164 L110.2 160 L116 158 L122.5 156 L132.5 152.5 L140 145Z M254 29 L256.5 24 L262.5 22.5 L271 22 L275 25 L271 29 L266 32.5 L260 31 L255 31.5Z M342.7 61.3 L346.8 58.8 L350 60.5 L350.9 66.2 L347.6 66.2 L343.5 65.3Z M64.2 174 L66.4 173.6 L66.6 175.8 L64.4 176Z M380 99 L386 97.5 L385 101Z M339 370 L341.8 368.7 L347.2 368 L352.6 368.7 L357.4 370.7 L356 372.8 L351.3 373.4 L346 374 L340.5 373.4Z M419.5 429.2 L421.2 428.5 L422 431.3 L421.2 435.5 L419.8 437 L419.1 434Z M464 436.2 L465.4 435 L467.5 437.6 L468.2 440.4 L467.5 444.6 L466 446 L465.4 441.8 L464.4 439Z M428.2 442.5 L429 446 L432.4 447.4 L438 451 L443.7 453 L449.3 453.8 L454.9 452.3 L460.5 451 L464 450.2 L466 452.3 L466.8 456.6 L466.8 461.5 L465.8 467 L464.7 471.3 L462.6 474.8 L459.8 473.4 L458.4 476.2 L459 480.4 L457 484 L453.5 485.3 L452 488 L447.9 489.5 L443.7 489.2 L440.2 487.4 L437.3 483.2 L435.2 478.3 L433.8 472.7 L431.7 467 L429.6 461.5 L428 455.9 L427.1 450.2Z" fill="none" stroke="#1a1a1a" stroke-width="0.9" stroke-linejoin="round"/>
<path d="M49.5,244 L53.7,247 L57,252 L56,259 L52.6,256.7 L50.4,250 Z M44,246 L46,252 L48.5,257" fill="none" stroke="#333" stroke-width="0.7"/>
</g>
<g filter="url(#soft)">
<polyline points="241,76 244,140 247.5,232 247.5,260 249.5,311" fill="none" stroke="#3a1a10" stroke-width="0.6" stroke-dasharray="16 3.5" opacity="0.7"/>
<polyline points="363,99 362.5,140 360,231" fill="none" stroke="#3a1a10" stroke-width="0.6" stroke-dasharray="16 3.5" opacity="0.7"/>
<polyline points="247.5,232 300,231 360,231 397.5,234" fill="none" stroke="#3a1a10" stroke-width="0.6" stroke-dasharray="16 3.5" opacity="0.7"/>
<polyline points="397.5,234 396,260 395,278" fill="none" stroke="#3a1a10" stroke-width="0.6" stroke-dasharray="16 3.5" opacity="0.7"/>
<polyline points="395,278 394,310 391,335 390,360 389,385 389,403" fill="none" stroke="#3a1a10" stroke-width="0.6" stroke-dasharray="16 3.5" opacity="0.7"/>
<polyline points="395,278 410,277.5 429,277.5 447.5,279 471,281 495,283 512,283 524,285 535,284 548,283" fill="none" stroke="#3a1a10" stroke-width="0.6" stroke-dasharray="16 3.5" opacity="0.7"/>
<polyline points="391,340 400,346 412,352 424,357 436,366 446,374 458,378 468,377 476,384 486,390 494,396" fill="none" stroke="#3a1a10" stroke-width="0.6" stroke-dasharray="16 3.5" opacity="0.3"/>
</g>
<rect x="0" y="0" width="741" height="1.2" fill="#666"/>
<rect x="0" y="0" width="1.3" height="499" fill="#666"/>
<rect x="0" y="496.8" width="741" height="1" fill="#999"/>
<rect x="0" y="497.8" width="741" height="1.2" fill="#ccc"/>
<g filter="url(#soft)">
<rect x="623" y="74.70" width="29.8" height="17.81" fill="#993300"/>
<rect x="623" y="92.51" width="29.8" height="17.81" fill="#996633"/>
<rect x="623" y="110.32" width="29.8" height="17.81" fill="#CC0000"/>
<rect x="623" y="128.13" width="29.8" height="17.81" fill="#FF3333"/>
<rect x="623" y="145.94" width="29.8" height="17.81" fill="#FF9999"/>
<rect x="623" y="163.75" width="29.8" height="17.81" fill="#FFCCCC"/>
<rect x="623" y="181.56" width="29.8" height="17.81" fill="#FFCC66"/>
<rect x="623" y="199.37" width="29.8" height="17.81" fill="#FFFF00"/>
<rect x="623" y="217.18" width="29.8" height="17.81" fill="#FFFFCC"/>
<rect x="623" y="234.99" width="29.8" height="17.81" fill="#CCFFCC"/>
<rect x="623" y="252.80" width="29.8" height="17.81" fill="#66FF33"/>
<rect x="623" y="270.61" width="29.8" height="17.81" fill="#33CC00"/>
<rect x="623" y="288.42" width="29.8" height="17.81" fill="#99FFFF"/>
<rect x="623" y="306.23" width="29.8" height="17.81" fill="#33CCFF"/>
<rect x="623" y="324.04" width="29.8" height="17.81" fill="#6666FF"/>
<rect x="623" y="341.85" width="29.8" height="17.81" fill="#CCCCCC"/>
<rect x="623" y="359.66" width="29.8" height="17.81" fill="#FFB3FF"/>
<rect x="623" y="377.47" width="29.8" height="17.81" fill="#FF00FF"/>
<rect x="623" y="395.28" width="29.8" height="17.81" fill="#990099"/>
<line x1="623" x2="652.8" y1="92.51" y2="92.51" stroke="#000" stroke-opacity="0.5" stroke-width="0.6"/>
<line x1="623" x2="652.8" y1="110.32" y2="110.32" stroke="#000" stroke-opacity="0.5" stroke-width="0.6"/>
<line x1="623" x2="652.8" y1="128.13" y2="128.13" stroke="#000" stroke-opacity="0.5" stroke-width="0.6"/>
<line x1="623" x2="652.8" y1="145.94" y2="145.94" stroke="#000" stroke-opacity="0.5" stroke-width="0.6"/>
<line x1="623" x2="652.8" y1="163.75" y2="163.75" stroke="#000" stroke-opacity="0.5" stroke-width="0.6"/>
<line x1="623" x2="652.8" y1="181.56" y2="181.56" stroke="#000" stroke-opacity="0.5" stroke-width="0.6"/>
<line x1="623" x2="652.8" y1="199.37" y2="199.37" stroke="#000" stroke-opacity="0.5" stroke-width="0.6"/>
<line x1="623" x2="652.8" y1="217.18" y2="217.18" stroke="#000" stroke-opacity="0.5" stroke-width="0.6"/>
<line x1="623" x2="652.8" y1="234.99" y2="234.99" stroke="#000" stroke-opacity="0.5" stroke-width="0.6"/>
<line x1="623" x2="652.8" y1="252.80" y2="252.80" stroke="#000" stroke-opacity="0.5" stroke-width="0.6"/>
<line x1="623" x2="652.8" y1="270.61" y2="270.61" stroke="#000" stroke-opacity="0.5" stroke-width="0.6"/>
<line x1="623" x2="652.8" y1="288.42" y2="288.42" stroke="#000" stroke-opacity="0.5" stroke-width="0.6"/>
<line x1="623" x2="652.8" y1="306.23" y2="306.23" stroke="#000" stroke-opacity="0.5" stroke-width="0.6"/>
<line x1="623" x2="652.8" y1="324.04" y2="324.04" stroke="#000" stroke-opacity="0.5" stroke-width="0.6"/>
<line x1="623" x2="652.8" y1="341.85" y2="341.85" stroke="#000" stroke-opacity="0.5" stroke-width="0.6"/>
<line x1="623" x2="652.8" y1="359.66" y2="359.66" stroke="#000" stroke-opacity="0.5" stroke-width="0.6"/>
<line x1="623" x2="652.8" y1="377.47" y2="377.47" stroke="#000" stroke-opacity="0.5" stroke-width="0.6"/>
<line x1="623" x2="652.8" y1="395.28" y2="395.28" stroke="#000" stroke-opacity="0.5" stroke-width="0.6"/>
<rect x="623" y="74.7" width="29.8" height="338.39" fill="none" stroke="#555" stroke-width="0.8"/>
<text x="670.8" y="96.91" font-size="11" text-anchor="middle">45<tspan font-size="7.5" dy="-4.4">o</tspan><tspan dy="4.4">C</tspan></text>
<text x="670.8" y="114.72" font-size="11" text-anchor="middle">42<tspan font-size="7.5" dy="-4.4">o</tspan><tspan dy="4.4">C</tspan></text>
<text x="670.8" y="132.53" font-size="11" text-anchor="middle">39<tspan font-size="7.5" dy="-4.4">o</tspan><tspan dy="4.4">C</tspan></text>
<text x="670.8" y="150.34" font-size="11" text-anchor="middle">36<tspan font-size="7.5" dy="-4.4">o</tspan><tspan dy="4.4">C</tspan></text>
<text x="670.8" y="168.15" font-size="11" text-anchor="middle">33<tspan font-size="7.5" dy="-4.4">o</tspan><tspan dy="4.4">C</tspan></text>
<text x="670.8" y="185.96" font-size="11" text-anchor="middle">30<tspan font-size="7.5" dy="-4.4">o</tspan><tspan dy="4.4">C</tspan></text>
<text x="670.8" y="203.77" font-size="11" text-anchor="middle">27<tspan font-size="7.5" dy="-4.4">o</tspan><tspan dy="4.4">C</tspan></text>
<text x="670.8" y="221.58" font-size="11" text-anchor="middle">24<tspan font-size="7.5" dy="-4.4">o</tspan><tspan dy="4.4">C</tspan></text>
<text x="670.8" y="239.39" font-size="11" text-anchor="middle">21<tspan font-size="7.5" dy="-4.4">o</tspan><tspan dy="4.4">C</tspan></text>
<text x="670.8" y="257.20" font-size="11" text-anchor="middle">18<tspan font-size="7.5" dy="-4.4">o</tspan><tspan dy="4.4">C</tspan></text>
<text x="670.8" y="275.01" font-size="11" text-anchor="middle">15<tspan font-size="7.5" dy="-4.4">o</tspan><tspan dy="4.4">C</tspan></text>
<text x="670.8" y="292.82" font-size="11" text-anchor="middle">12<tspan font-size="7.5" dy="-4.4">o</tspan><tspan dy="4.4">C</tspan></text>
<text x="670.8" y="310.63" font-size="11" text-anchor="middle">9<tspan font-size="7.5" dy="-4.4">o</tspan><tspan dy="4.4">C</tspan></text>
<text x="670.8" y="328.44" font-size="11" text-anchor="middle">6<tspan font-size="7.5" dy="-4.4">o</tspan><tspan dy="4.4">C</tspan></text>
<text x="670.8" y="346.25" font-size="11" text-anchor="middle">3<tspan font-size="7.5" dy="-4.4">o</tspan><tspan dy="4.4">C</tspan></text>
<text x="670.8" y="364.06" font-size="11" text-anchor="middle">0<tspan font-size="7.5" dy="-4.4">o</tspan><tspan dy="4.4">C</tspan></text>
<text x="670.8" y="381.87" font-size="11" text-anchor="middle">-3<tspan font-size="7.5" dy="-4.4">o</tspan><tspan dy="4.4">C</tspan></text>
<text x="670.8" y="399.68" font-size="11" text-anchor="middle">-6<tspan font-size="7.5" dy="-4.4">o</tspan><tspan dy="4.4">C</tspan></text>
</g>
<g filter="url(#soft)">
<text x="244.5" y="434.5" font-size="13.2" text-anchor="middle">Mean Maximum Temperature (<tspan font-size="8.5" dy="-4">o</tspan><tspan dy="4">C)</tspan></text>
<text x="246.4" y="456.3" font-size="13.1" text-anchor="middle">Week Ending 19th January 2019</text>
<text x="244" y="470.2" font-size="10.7" text-anchor="middle">Australian Bureau of Meteorology</text>
<text class="serif" x="4.5" y="493.5" font-size="8.6">http://www.bom.gov.au</text>
<text class="serif" x="77.6" y="77.5" font-size="12.25" text-anchor="middle">Australian Government</text>
<rect x="15" y="82.4" width="125" height="0.9" fill="#222"/>
<text class="serif" x="77.7" y="97.4" font-size="11.15" text-anchor="middle">Bureau of Meteorology</text>
</g>
<defs><filter id="csoft" x="-5%" y="-5%" width="110%" height="110%"><feGaussianBlur stdDeviation="3.5"/></filter></defs>
<g transform="translate(40,10) scale(0.11227)" filter="url(#csoft)">
<circle cx="120" cy="200" r="5.6" fill="#222"/>
<circle cx="128" cy="173" r="5.3" fill="#333"/>
<circle cx="127" cy="197" r="4.7" fill="#444"/>
<circle cx="139" cy="200" r="6.3" fill="#222"/>
<circle cx="145" cy="174" r="5.3" fill="#222"/>
<circle cx="111" cy="173" r="6.9" fill="#222"/>
<circle cx="116" cy="180" r="4.7" fill="#333"/>
<circle cx="136" cy="201" r="6.3" fill="#444"/>
<circle cx="141" cy="204" r="3.8" fill="#222"/>
<circle cx="119" cy="182" r="3.2" fill="#444"/>
<circle cx="106" cy="186" r="6.1" fill="#888"/>
<circle cx="110" cy="171" r="4.2" fill="#444"/>
<circle cx="121" cy="165" r="5.3" fill="#333"/>
<circle cx="110" cy="186" r="4.8" fill="#333"/>
<circle cx="134" cy="183" r="4.7" fill="#666"/>
<circle cx="136" cy="209" r="3.2" fill="#222"/>
<circle cx="127" cy="153" r="6.5" fill="#666"/>
<circle cx="117" cy="206" r="5.0" fill="#888"/>
<circle cx="132" cy="190" r="4.1" fill="#222"/>
<circle cx="145" cy="198" r="5.6" fill="#888"/>
<circle cx="122" cy="210" r="5.7" fill="#222"/>
<circle cx="139" cy="176" r="5.4" fill="#888"/>
<circle cx="146" cy="198" r="3.5" fill="#444"/>
<circle cx="105" cy="209" r="5.0" fill="#444"/>
<circle cx="107" cy="195" r="6.5" fill="#888"/>
<circle cx="134" cy="168" r="4.7" fill="#666"/>
<circle cx="118" cy="161" r="3.9" fill="#222"/>
<circle cx="131" cy="203" r="3.9" fill="#888"/>
<circle cx="130" cy="169" r="4.1" fill="#444"/>
<circle cx="111" cy="197" r="5.3" fill="#444"/>
<circle cx="118" cy="157" r="5.5" fill="#222"/>
<circle cx="102" cy="196" r="6.8" fill="#333"/>
<circle cx="112" cy="202" r="3.4" fill="#888"/>
<circle cx="131" cy="189" r="3.8" fill="#444"/>
<circle cx="163" cy="287" r="3.4" fill="#333"/>
<circle cx="133" cy="280" r="4.5" fill="#222"/>
<circle cx="150" cy="278" r="4.5" fill="#666"/>
<circle cx="174" cy="266" r="4.9" fill="#222"/>
<circle cx="162" cy="248" r="4.9" fill="#888"/>
<circle cx="110" cy="283" r="6.0" fill="#666"/>
<circle cx="61" cy="275" r="5.1" fill="#444"/>
<circle cx="170" cy="265" r="3.6" fill="#333"/>
<circle cx="174" cy="259" r="4.2" fill="#222"/>
<circle cx="108" cy="258" r="4.5" fill="#444"/>
<circle cx="99" cy="283" r="5.2" fill="#333"/>
<circle cx="104" cy="284" r="6.2" fill="#444"/>
<circle cx="142" cy="247" r="6.0" fill="#444"/>
<circle cx="136" cy="292" r="5.9" fill="#222"/>
<circle cx="132" cy="252" r="3.8" fill="#333"/>
<circle cx="166" cy="267" r="6.7" fill="#666"/>
<circle cx="162" cy="267" r="3.9" fill="#444"/>
<circle cx="79" cy="275" r="4.9" fill="#333"/>
<circle cx="147" cy="254" r="5.6" fill="#222"/>
<circle cx="133" cy="263" r="4.6" fill="#444"/>
<circle cx="90" cy="274" r="6.2" fill="#666"/>
<circle cx="180" cy="287" r="5.9" fill="#888"/>
<circle cx="63" cy="289" r="5.9" fill="#444"/>
<circle cx="132" cy="272" r="5.4" fill="#888"/>
<circle cx="130" cy="261" r="6.3" fill="#888"/>
<circle cx="97" cy="257" r="5.2" fill="#444"/>
<circle cx="184" cy="276" r="5.9" fill="#222"/>
<circle cx="51" cy="267" r="4.7" fill="#444"/>
<circle cx="135" cy="260" r="4.0" fill="#666"/>
<circle cx="57" cy="272" r="4.3" fill="#333"/>
<circle cx="97" cy="277" r="6.6" fill="#666"/>
<circle cx="167" cy="257" r="6.3" fill="#333"/>
<circle cx="59" cy="286" r="5.0" fill="#333"/>
<circle cx="150" cy="289" r="6.5" fill="#444"/>
<circle cx="71" cy="255" r="3.6" fill="#444"/>
<circle cx="60" cy="276" r="5.2" fill="#666"/>
<circle cx="98" cy="252" r="4.9" fill="#222"/>
<circle cx="133" cy="267" r="3.8" fill="#222"/>
<circle cx="127" cy="251" r="5.2" fill="#222"/>
<circle cx="67" cy="280" r="5.0" fill="#333"/>
<circle cx="132" cy="287" r="5.0" fill="#888"/>
<circle cx="84" cy="271" r="5.1" fill="#666"/>
<circle cx="180" cy="259" r="3.8" fill="#888"/>
<circle cx="136" cy="280" r="4.8" fill="#222"/>
<circle cx="98" cy="255" r="3.9" fill="#666"/>
<circle cx="134" cy="244" r="3.6" fill="#666"/>
<circle cx="162" cy="294" r="6.9" fill="#444"/>
<circle cx="120" cy="263" r="6.5" fill="#444"/>
<circle cx="186" cy="270" r="3.6" fill="#888"/>
<circle cx="166" cy="271" r="4.7" fill="#666"/>
<circle cx="94" cy="295" r="3.1" fill="#333"/>
<circle cx="62" cy="278" r="4.5" fill="#333"/>
<circle cx="83" cy="257" r="3.3" fill="#444"/>
<circle cx="143" cy="270" r="4.1" fill="#222"/>
<circle cx="145" cy="265" r="6.0" fill="#888"/>
<circle cx="155" cy="252" r="6.8" fill="#888"/>
<circle cx="161" cy="295" r="5.3" fill="#666"/>
<circle cx="135" cy="276" r="5.8" fill="#888"/>
<circle cx="150" cy="262" r="3.1" fill="#222"/>
<circle cx="127" cy="264" r="6.4" fill="#222"/>
<circle cx="118" cy="282" r="3.0" fill="#333"/>
<circle cx="60" cy="286" r="5.5" fill="#222"/>
<circle cx="85" cy="270" r="3.4" fill="#444"/>
<circle cx="118" cy="285" r="6.7" fill="#666"/>
<circle cx="88" cy="269" r="4.8" fill="#444"/>
<circle cx="112" cy="299" r="7.0" fill="#222"/>
<circle cx="181" cy="274" r="5.2" fill="#444"/>
<circle cx="84" cy="271" r="4.8" fill="#888"/>
<circle cx="91" cy="254" r="6.6" fill="#333"/>
<circle cx="108" cy="285" r="3.9" fill="#444"/>
<circle cx="150" cy="250" r="5.5" fill="#888"/>
<circle cx="191" cy="270" r="6.3" fill="#222"/>
<circle cx="176" cy="283" r="4.0" fill="#444"/>
<circle cx="175" cy="280" r="4.5" fill="#333"/>
<circle cx="102" cy="258" r="4.0" fill="#666"/>
<circle cx="150" cy="276" r="4.1" fill="#222"/>
<circle cx="114" cy="301" r="6.9" fill="#333"/>
<circle cx="114" cy="277" r="6.5" fill="#444"/>
<circle cx="119" cy="273" r="4.5" fill="#888"/>
<circle cx="109" cy="296" r="4.0" fill="#222"/>
<circle cx="175" cy="287" r="3.6" fill="#333"/>
<circle cx="130" cy="273" r="4.2" fill="#444"/>
<circle cx="181" cy="287" r="6.4" fill="#444"/>
<circle cx="87" cy="251" r="6.5" fill="#888"/>
<circle cx="125" cy="247" r="5.0" fill="#666"/>
<circle cx="111" cy="248" r="3.2" fill="#333"/>
<circle cx="77" cy="254" r="6.2" fill="#444"/>
<circle cx="173" cy="258" r="5.3" fill="#222"/>
<circle cx="145" cy="252" r="6.6" fill="#444"/>
<circle cx="133" cy="275" r="5.5" fill="#222"/>
<circle cx="85" cy="286" r="3.2" fill="#222"/>
<circle cx="78" cy="254" r="5.0" fill="#222"/>
<circle cx="102" cy="274" r="6.7" fill="#333"/>
<circle cx="164" cy="284" r="6.0" fill="#888"/>
<circle cx="120" cy="280" r="4.1" fill="#444"/>
<circle cx="177" cy="267" r="4.4" fill="#888"/>
<circle cx="196" cy="253" r="3.9" fill="#222"/>
<circle cx="160" cy="213" r="3.2" fill="#444"/>
<circle cx="165" cy="263" r="5.1" fill="#333"/>
<circle cx="172" cy="233" r="3.2" fill="#666"/>
<circle cx="183" cy="233" r="3.7" fill="#888"/>
<circle cx="170" cy="263" r="4.4" fill="#888"/>
<circle cx="178" cy="195" r="4.6" fill="#666"/>
<circle cx="199" cy="230" r="3.1" fill="#888"/>
<circle cx="191" cy="248" r="6.0" fill="#666"/>
<circle cx="157" cy="260" r="5.8" fill="#222"/>
<circle cx="167" cy="228" r="4.6" fill="#666"/>
<circle cx="190" cy="262" r="4.5" fill="#222"/>
<circle cx="172" cy="217" r="5.7" fill="#888"/>
<circle cx="167" cy="245" r="5.8" fill="#888"/>
<circle cx="157" cy="254" r="4.2" fill="#888"/>
<circle cx="166" cy="269" r="3.0" fill="#666"/>
<circle cx="180" cy="223" r="5.8" fill="#222"/>
<circle cx="186" cy="223" r="4.1" fill="#888"/>
<circle cx="157" cy="259" r="3.2" fill="#888"/>
<circle cx="176" cy="198" r="3.8" fill="#222"/>
<circle cx="182" cy="217" r="5.8" fill="#444"/>
<circle cx="565" cy="180" r="4.3" fill="#666"/>
<circle cx="552" cy="158" r="3.1" fill="#888"/>
<circle cx="570" cy="164" r="5.2" fill="#222"/>
<circle cx="569" cy="196" r="4.8" fill="#444"/>
<circle cx="539" cy="167" r="3.2" fill="#333"/>
<circle cx="560" cy="206" r="4.4" fill="#666"/>
<circle cx="547" cy="221" r="5.6" fill="#888"/>
<circle cx="540" cy="166" r="5.2" fill="#888"/>
<circle cx="563" cy="208" r="3.3" fill="#333"/>
<circle cx="563" cy="169" r="3.9" fill="#666"/>
<circle cx="565" cy="184" r="3.6" fill="#444"/>
<circle cx="548" cy="203" r="5.2" fill="#666"/>
<circle cx="549" cy="206" r="5.3" fill="#222"/>
<circle cx="548" cy="158" r="4.7" fill="#333"/>
<circle cx="551" cy="206" r="6.0" fill="#888"/>
<circle cx="544" cy="226" r="3.5" fill="#333"/>
<circle cx="525" cy="178" r="6.4" fill="#222"/>
<circle cx="546" cy="206" r="4.6" fill="#888"/>
<circle cx="535" cy="195" r="6.3" fill="#222"/>
<circle cx="560" cy="205" r="6.1" fill="#888"/>
<circle cx="566" cy="179" r="3.3" fill="#333"/>
<circle cx="564" cy="152" r="4.0" fill="#222"/>
<circle cx="550" cy="201" r="6.9" fill="#222"/>
<circle cx="569" cy="172" r="5.6" fill="#888"/>
<circle cx="568" cy="204" r="3.0" fill="#444"/>
<circle cx="551" cy="225" r="5.6" fill="#666"/>
<circle cx="568" cy="177" r="5.1" fill="#888"/>
<circle cx="545" cy="172" r="3.3" fill="#333"/>
<circle cx="559" cy="179" r="4.0" fill="#333"/>
<circle cx="567" cy="185" r="7.0" fill="#666"/>
<circle cx="568" cy="176" r="6.5" fill="#888"/>
<circle cx="529" cy="180" r="3.1" fill="#888"/>
<circle cx="544" cy="163" r="3.1" fill="#888"/>
<circle cx="564" cy="163" r="3.3" fill="#444"/>
<circle cx="523" cy="247" r="3.9" fill="#222"/>
<circle cx="536" cy="248" r="4.4" fill="#888"/>
<circle cx="574" cy="297" r="6.0" fill="#333"/>
<circle cx="597" cy="281" r="3.8" fill="#444"/>
<circle cx="559" cy="286" r="6.0" fill="#666"/>
<circle cx="595" cy="287" r="5.4" fill="#444"/>
<circle cx="492" cy="275" r="3.2" fill="#333"/>
<circle cx="580" cy="287" r="3.9" fill="#333"/>
<circle cx="564" cy="277" r="3.2" fill="#888"/>
<circle cx="502" cy="280" r="4.3" fill="#222"/>
<circle cx="619" cy="272" r="4.3" fill="#444"/>
<circle cx="527" cy="254" r="4.9" fill="#666"/>
<circle cx="534" cy="256" r="4.5" fill="#666"/>
<circle cx="535" cy="276" r="3.3" fill="#222"/>
<circle cx="517" cy="296" r="3.5" fill="#444"/>
<circle cx="513" cy="290" r="4.2" fill="#888"/>
<circle cx="602" cy="285" r="3.8" fill="#333"/>
<circle cx="580" cy="266" r="4.5" fill="#888"/>
<circle cx="597" cy="276" r="6.2" fill="#888"/>
<circle cx="567" cy="273" r="3.3" fill="#222"/>
<circle cx="552" cy="298" r="6.6" fill="#666"/>
<circle cx="530" cy="285" r="6.8" fill="#222"/>
<circle cx="551" cy="297" r="4.3" fill="#666"/>
<circle cx="539" cy="296" r="5.4" fill="#222"/>
<circle cx="587" cy="274" r="4.9" fill="#888"/>
<circle cx="594" cy="267" r="4.0" fill="#888"/>
<circle cx="565" cy="262" r="5.0" fill="#222"/>
<circle cx="573" cy="248" r="6.3" fill="#444"/>
<circle cx="525" cy="261" r="4.3" fill="#666"/>
<circle cx="566" cy="249" r="5.0" fill="#888"/>
<circle cx="556" cy="257" r="3.3" fill="#222"/>
<circle cx="507" cy="275" r="3.6" fill="#888"/>
<circle cx="604" cy="252" r="4.1" fill="#222"/>
<circle cx="566" cy="291" r="7.0" fill="#888"/>
<circle cx="566" cy="282" r="4.8" fill="#444"/>
<circle cx="554" cy="244" r="5.7" fill="#222"/>
<circle cx="562" cy="256" r="4.1" fill="#666"/>
<circle cx="515" cy="290" r="3.8" fill="#444"/>
<circle cx="568" cy="285" r="4.1" fill="#333"/>
<circle cx="561" cy="279" r="4.0" fill="#444"/>
<circle cx="523" cy="271" r="6.2" fill="#888"/>
<circle cx="576" cy="271" r="4.9" fill="#444"/>
<circle cx="589" cy="248" r="3.2" fill="#666"/>
<circle cx="557" cy="279" r="5.4" fill="#333"/>
<circle cx="561" cy="280" r="5.1" fill="#444"/>
<circle cx="523" cy="277" r="6.1" fill="#222"/>
<circle cx="595" cy="286" r="5.5" fill="#444"/>
<circle cx="592" cy="276" r="3.2" fill="#666"/>
<circle cx="610" cy="278" r="6.7" fill="#222"/>
<circle cx="573" cy="255" r="4.5" fill="#333"/>
<circle cx="544" cy="285" r="6.2" fill="#333"/>
<circle cx="513" cy="274" r="6.2" fill="#333"/>
<circle cx="582" cy="290" r="5.6" fill="#888"/>
<circle cx="541" cy="254" r="4.1" fill="#666"/>
<circle cx="542" cy="275" r="6.0" fill="#666"/>
<circle cx="547" cy="274" r="6.1" fill="#666"/>
<circle cx="530" cy="257" r="4.6" fill="#222"/>
<circle cx="531" cy="277" r="3.5" fill="#222"/>
<circle cx="503" cy="288" r="4.8" fill="#444"/>
<circle cx="565" cy="277" r="3.6" fill="#888"/>
<circle cx="599" cy="285" r="4.5" fill="#333"/>
<circle cx="573" cy="288" r="3.6" fill="#444"/>
<circle cx="574" cy="268" r="5.0" fill="#444"/>
<circle cx="536" cy="298" r="3.2" fill="#888"/>
<circle cx="535" cy="293" r="5.5" fill="#222"/>
<circle cx="598" cy="259" r="6.3" fill="#444"/>
<circle cx="516" cy="251" r="5.5" fill="#333"/>
<circle cx="589" cy="250" r="3.7" fill="#444"/>
<circle cx="617" cy="280" r="3.6" fill="#666"/>
<circle cx="578" cy="282" r="5.9" fill="#444"/>
<circle cx="603" cy="278" r="6.0" fill="#222"/>
<circle cx="536" cy="257" r="4.6" fill="#888"/>
<circle cx="505" cy="265" r="4.2" fill="#888"/>
<circle cx="543" cy="286" r="4.6" fill="#666"/>
<circle cx="514" cy="279" r="3.1" fill="#333"/>
<circle cx="600" cy="270" r="4.8" fill="#333"/>
<circle cx="563" cy="252" r="3.7" fill="#888"/>
<circle cx="541" cy="277" r="4.4" fill="#666"/>
<circle cx="592" cy="283" r="5.0" fill="#222"/>
<circle cx="578" cy="275" r="6.7" fill="#666"/>
<circle cx="563" cy="251" r="3.2" fill="#333"/>
<circle cx="597" cy="257" r="6.1" fill="#222"/>
<circle cx="596" cy="249" r="5.9" fill="#222"/>
<circle cx="578" cy="300" r="5.0" fill="#444"/>
<circle cx="533" cy="249" r="3.9" fill="#666"/>
<circle cx="530" cy="262" r="4.3" fill="#333"/>
<circle cx="546" cy="299" r="3.6" fill="#333"/>
<circle cx="600" cy="267" r="5.4" fill="#333"/>
<circle cx="518" cy="271" r="3.1" fill="#444"/>
<circle cx="512" cy="286" r="4.1" fill="#666"/>
<circle cx="576" cy="264" r="6.1" fill="#222"/>
<circle cx="557" cy="265" r="6.4" fill="#888"/>
<circle cx="508" cy="264" r="6.5" fill="#222"/>
<circle cx="554" cy="294" r="6.4" fill="#666"/>
<circle cx="549" cy="302" r="5.3" fill="#666"/>
<circle cx="497" cy="277" r="3.7" fill="#333"/>
<circle cx="500" cy="263" r="5.5" fill="#666"/>
<circle cx="493" cy="297" r="5.6" fill="#666"/>
<circle cx="498" cy="244" r="3.7" fill="#666"/>
<circle cx="490" cy="257" r="4.5" fill="#222"/>
<circle cx="506" cy="281" r="5.0" fill="#222"/>
<circle cx="514" cy="278" r="3.9" fill="#333"/>
<circle cx="494" cy="281" r="4.8" fill="#333"/>
<circle cx="508" cy="284" r="5.5" fill="#444"/>
<circle cx="513" cy="292" r="3.7" fill="#444"/>
<circle cx="495" cy="272" r="3.4" fill="#666"/>
<circle cx="492" cy="279" r="3.0" fill="#333"/>
<circle cx="512" cy="256" r="4.7" fill="#333"/>
<circle cx="516" cy="260" r="3.7" fill="#222"/>
<circle cx="382" cy="293" r="4.2" fill="#444"/>
<circle cx="369" cy="317" r="3.3" fill="#333"/>
<circle cx="269" cy="273" r="3.4" fill="#444"/>
<circle cx="277" cy="281" r="4.9" fill="#888"/>
<circle cx="344" cy="270" r="3.9" fill="#666"/>
<circle cx="284" cy="257" r="5.2" fill="#888"/>
<circle cx="332" cy="282" r="5.5" fill="#888"/>
<circle cx="383" cy="301" r="3.5" fill="#222"/>
<circle cx="329" cy="317" r="3.4" fill="#666"/>
<circle cx="324" cy="265" r="4.7" fill="#888"/>
<circle cx="307" cy="250" r="5.9" fill="#666"/>
<circle cx="290" cy="254" r="3.7" fill="#333"/>
<circle cx="369" cy="287" r="3.7" fill="#444"/>
<circle cx="390" cy="273" r="4.0" fill="#888"/>
<circle cx="317" cy="302" r="5.7" fill="#333"/>
<circle cx="270" cy="292" r="5.1" fill="#222"/>
<circle cx="278" cy="298" r="4.7" fill="#666"/>
<circle cx="344" cy="261" r="4.8" fill="#333"/>
<circle cx="356" cy="277" r="3.1" fill="#222"/>
<circle cx="313" cy="274" r="5.9" fill="#222"/>
<circle cx="359" cy="288" r="4.9" fill="#222"/>
<circle cx="313" cy="253" r="3.2" fill="#333"/>
<circle cx="335" cy="267" r="5.9" fill="#333"/>
<circle cx="347" cy="279" r="5.6" fill="#888"/>
<circle cx="358" cy="296" r="3.3" fill="#222"/>
<circle cx="396" cy="273" r="5.3" fill="#222"/>
<circle cx="358" cy="257" r="3.9" fill="#222"/>
<circle cx="375" cy="311" r="4.9" fill="#666"/>
<circle cx="314" cy="309" r="3.1" fill="#666"/>
<circle cx="347" cy="281" r="5.3" fill="#666"/>
<circle cx="340" cy="254" r="4.4" fill="#666"/>
<circle cx="324" cy="280" r="4.2" fill="#888"/>
<circle cx="311" cy="284" r="4.4" fill="#222"/>
<circle cx="301" cy="281" r="5.6" fill="#222"/>
<circle cx="300" cy="275" r="4.3" fill="#333"/>
<circle cx="351" cy="318" r="5.9" fill="#222"/>
<circle cx="321" cy="295" r="5.1" fill="#444"/>
<circle cx="386" cy="279" r="5.9" fill="#333"/>
<circle cx="328" cy="324" r="3.9" fill="#444"/>
<circle cx="364" cy="278" r="3.5" fill="#222"/>
<circle cx="263" cy="287" r="4.7" fill="#222"/>
<circle cx="304" cy="268" r="4.2" fill="#888"/>
<circle cx="380" cy="263" r="4.3" fill="#222"/>
<circle cx="306" cy="301" r="4.3" fill="#333"/>
<circle cx="290" cy="285" r="5.7" fill="#444"/>
<circle cx="356" cy="280" r="4.8" fill="#333"/>
<circle cx="308" cy="266" r="4.0" fill="#444"/>
<circle cx="365" cy="265" r="4.7" fill="#666"/>
<circle cx="355" cy="308" r="5.3" fill="#333"/>
<circle cx="338" cy="308" r="4.9" fill="#444"/>
<rect x="50" y="300" width="572" height="9" fill="#222"/>
<circle cx="194" cy="361" r="6.0" fill="#333"/>
<circle cx="393" cy="372" r="4.0" fill="#666"/>
<circle cx="206" cy="351" r="3.9" fill="#444"/>
<circle cx="319" cy="391" r="7.0" fill="#444"/>
<circle cx="417" cy="360" r="4.5" fill="#444"/>
<circle cx="397" cy="337" r="4.7" fill="#444"/>
<circle cx="532" cy="380" r="4.1" fill="#888"/>
<circle cx="303" cy="363" r="6.4" fill="#888"/>
<circle cx="267" cy="342" r="5.5" fill="#888"/>
<circle cx="469" cy="364" r="6.0" fill="#222"/>
<circle cx="318" cy="333" r="4.7" fill="#333"/>
<circle cx="148" cy="349" r="6.4" fill="#333"/>
<circle cx="467" cy="342" r="5.6" fill="#888"/>
<circle cx="208" cy="368" r="5.8" fill="#888"/>
<circle cx="341" cy="381" r="5.9" fill="#444"/>
<circle cx="333" cy="382" r="4.8" fill="#333"/>
<circle cx="456" cy="345" r="5.6" fill="#444"/>
<circle cx="455" cy="351" r="3.0" fill="#888"/>
<circle cx="407" cy="357" r="4.0" fill="#444"/>
<circle cx="460" cy="384" r="6.8" fill="#333"/>
<circle cx="189" cy="385" r="4.8" fill="#444"/>
<circle cx="294" cy="341" r="5.6" fill="#666"/>
<circle cx="162" cy="359" r="6.8" fill="#444"/>
<circle cx="449" cy="361" r="5.1" fill="#222"/>
<circle cx="305" cy="339" r="5.6" fill="#666"/>
<circle cx="307" cy="381" r="3.1" fill="#888"/>
<circle cx="518" cy="350" r="5.7" fill="#333"/>
<circle cx="321" cy="376" r="6.0" fill="#333"/>
<circle cx="598" cy="357" r="6.8" fill="#888"/>
<circle cx="356" cy="372" r="6.1" fill="#444"/>
<circle cx="134" cy="366" r="3.9" fill="#444"/>
<circle cx="203" cy="381" r="6.3" fill="#888"/>
<circle cx="189" cy="365" r="5.2" fill="#444"/>
<circle cx="367" cy="342" r="6.1" fill="#444"/>
<circle cx="315" cy="380" r="4.0" fill="#888"/>
<circle cx="252" cy="343" r="6.2" fill="#666"/>
<circle cx="196" cy="381" r="4.3" fill="#888"/>
<circle cx="139" cy="372" r="5.6" fill="#666"/>
<circle cx="418" cy="376" r="4.5" fill="#222"/>
<circle cx="454" cy="337" r="6.1" fill="#444"/>
<circle cx="177" cy="359" r="5.3" fill="#222"/>
<circle cx="351" cy="370" r="4.2" fill="#333"/>
<circle cx="415" cy="369" r="3.9" fill="#888"/>
<circle cx="273" cy="372" r="6.6" fill="#333"/>
<circle cx="459" cy="387" r="5.4" fill="#222"/>
<circle cx="208" cy="337" r="6.2" fill="#666"/>
<circle cx="406" cy="386" r="5.1" fill="#888"/>
<circle cx="289" cy="353" r="3.5" fill="#888"/>
<circle cx="343" cy="373" r="5.0" fill="#222"/>
<circle cx="77" cy="365" r="5.8" fill="#444"/>
<circle cx="135" cy="362" r="6.5" fill="#222"/>
<circle cx="415" cy="376" r="5.8" fill="#888"/>
<circle cx="207" cy="338" r="4.5" fill="#888"/>
<circle cx="555" cy="362" r="3.7" fill="#666"/>
<circle cx="303" cy="358" r="5.4" fill="#666"/>
<circle cx="363" cy="353" r="4.9" fill="#444"/>
<circle cx="557" cy="367" r="5.5" fill="#666"/>
<circle cx="515" cy="376" r="4.4" fill="#333"/>
<circle cx="90" cy="352" r="4.1" fill="#666"/>
<circle cx="155" cy="372" r="6.3" fill="#666"/>
<circle cx="217" cy="379" r="4.3" fill="#666"/>
<circle cx="444" cy="349" r="3.8" fill="#888"/>
<circle cx="373" cy="345" r="4.3" fill="#666"/>
<circle cx="518" cy="383" r="3.4" fill="#222"/>
<circle cx="171" cy="375" r="4.6" fill="#333"/>
<circle cx="474" cy="367" r="3.0" fill="#444"/>
<circle cx="414" cy="343" r="6.1" fill="#222"/>
<circle cx="396" cy="334" r="5.4" fill="#333"/>
<circle cx="467" cy="382" r="5.8" fill="#222"/>
<circle cx="384" cy="386" r="4.8" fill="#444"/>
<circle cx="425" cy="370" r="3.1" fill="#222"/>
<circle cx="521" cy="350" r="4.5" fill="#444"/>
<circle cx="379" cy="340" r="4.0" fill="#666"/>
<circle cx="353" cy="367" r="3.1" fill="#333"/>
<circle cx="169" cy="339" r="3.2" fill="#333"/>
<circle cx="90" cy="358" r="6.1" fill="#888"/>
<circle cx="103" cy="349" r="4.8" fill="#222"/>
<circle cx="244" cy="341" r="7.0" fill="#444"/>
<circle cx="162" cy="365" r="3.4" fill="#888"/>
<circle cx="358" cy="373" r="3.1" fill="#222"/>
<circle cx="554" cy="363" r="6.9" fill="#222"/>
<circle cx="352" cy="372" r="4.9" fill="#666"/>
<circle cx="308" cy="348" r="5.9" fill="#444"/>
<circle cx="477" cy="354" r="6.0" fill="#444"/>
<circle cx="323" cy="353" r="5.5" fill="#888"/>
<circle cx="80" cy="369" r="4.0" fill="#222"/>
<circle cx="327" cy="359" r="3.1" fill="#333"/>
<circle cx="465" cy="370" r="5.9" fill="#444"/>
<circle cx="571" cy="355" r="5.4" fill="#666"/>
<circle cx="195" cy="379" r="4.8" fill="#444"/>
<circle cx="481" cy="383" r="4.5" fill="#444"/>
<circle cx="213" cy="348" r="4.5" fill="#888"/>
<circle cx="558" cy="353" r="5.3" fill="#666"/>
<circle cx="293" cy="385" r="5.6" fill="#333"/>
<circle cx="229" cy="382" r="6.9" fill="#444"/>
<circle cx="212" cy="352" r="4.7" fill="#444"/>
<circle cx="173" cy="379" r="5.4" fill="#444"/>
<circle cx="384" cy="347" r="3.0" fill="#666"/>
<circle cx="321" cy="374" r="6.7" fill="#222"/>
<circle cx="309" cy="373" r="6.6" fill="#333"/>
<circle cx="494" cy="386" r="6.2" fill="#333"/>
<circle cx="230" cy="336" r="4.4" fill="#222"/>
<circle cx="151" cy="357" r="4.5" fill="#444"/>
<circle cx="309" cy="369" r="4.6" fill="#444"/>
<circle cx="518" cy="352" r="3.0" fill="#888"/>
<circle cx="256" cy="364" r="6.2" fill="#222"/>
<circle cx="355" cy="385" r="6.6" fill="#333"/>
<circle cx="250" cy="381" r="3.8" fill="#444"/>
<circle cx="374" cy="374" r="5.8" fill="#666"/>
<circle cx="190" cy="354" r="6.1" fill="#444"/>
<circle cx="339" cy="391" r="5.0" fill="#222"/>
<circle cx="206" cy="377" r="3.3" fill="#666"/>
<circle cx="203" cy="352" r="5.1" fill="#222"/>
<circle cx="434" cy="370" r="6.5" fill="#333"/>
<circle cx="130" cy="364" r="4.0" fill="#666"/>
<circle cx="98" cy="375" r="6.1" fill="#333"/>
<circle cx="466" cy="359" r="3.2" fill="#444"/>
<circle cx="499" cy="361" r="3.1" fill="#222"/>
<circle cx="97" cy="352" r="4.8" fill="#222"/>
<circle cx="474" cy="344" r="6.7" fill="#222"/>
<circle cx="324" cy="385" r="5.6" fill="#333"/>
<circle cx="191" cy="374" r="3.6" fill="#444"/>
<circle cx="460" cy="361" r="3.2" fill="#666"/>
<circle cx="394" cy="359" r="5.2" fill="#222"/>
<circle cx="364" cy="356" r="6.1" fill="#888"/>
<circle cx="429" cy="366" r="6.0" fill="#444"/>
<circle cx="268" cy="347" r="5.4" fill="#222"/>
<circle cx="171" cy="365" r="4.6" fill="#666"/>
<circle cx="223" cy="363" r="4.0" fill="#444"/>
<circle cx="552" cy="347" r="4.9" fill="#444"/>
<circle cx="365" cy="351" r="6.3" fill="#222"/>
<circle cx="563" cy="351" r="6.6" fill="#444"/>
<circle cx="380" cy="333" r="6.7" fill="#888"/>
<circle cx="450" cy="342" r="4.8" fill="#666"/>
<circle cx="276" cy="375" r="3.5" fill="#666"/>
<circle cx="412" cy="373" r="3.2" fill="#888"/>
<circle cx="236" cy="358" r="6.5" fill="#666"/>
<circle cx="216" cy="369" r="3.1" fill="#333"/>
<circle cx="416" cy="347" r="3.7" fill="#888"/>
<circle cx="474" cy="375" r="4.9" fill="#444"/>
<circle cx="397" cy="361" r="6.6" fill="#444"/>
<circle cx="104" cy="352" r="3.5" fill="#444"/>
<circle cx="507" cy="358" r="4.0" fill="#444"/>
<circle cx="408" cy="358" r="4.2" fill="#444"/>
<circle cx="548" cy="371" r="4.2" fill="#222"/>
<circle cx="153" cy="370" r="5.0" fill="#888"/>
<circle cx="579" cy="362" r="5.1" fill="#444"/>
<circle cx="298" cy="367" r="4.6" fill="#666"/>
<circle cx="243" cy="357" r="3.7" fill="#444"/>
<circle cx="304" cy="349" r="3.3" fill="#222"/>
<circle cx="510" cy="346" r="6.0" fill="#444"/>
<circle cx="391" cy="385" r="5.8" fill="#444"/>
<circle cx="228" cy="355" r="3.3" fill="#333"/>
<circle cx="141" cy="376" r="3.2" fill="#666"/>
<circle cx="207" cy="386" r="6.5" fill="#888"/>
<circle cx="479" cy="372" r="6.1" fill="#444"/>
<circle cx="430" cy="351" r="3.7" fill="#666"/>
<circle cx="553" cy="368" r="5.3" fill="#222"/>
<circle cx="172" cy="385" r="6.9" fill="#222"/>
<circle cx="499" cy="379" r="6.3" fill="#666"/>
<circle cx="379" cy="335" r="5.3" fill="#222"/>
<circle cx="310" cy="372" r="5.9" fill="#888"/>
<circle cx="137" cy="360" r="5.1" fill="#222"/>
<circle cx="336" cy="371" r="5.5" fill="#444"/>
<circle cx="441" cy="371" r="6.3" fill="#222"/>
<circle cx="591" cy="366" r="6.0" fill="#666"/>
<circle cx="541" cy="365" r="5.3" fill="#333"/>
<circle cx="346" cy="382" r="4.4" fill="#222"/>
<circle cx="321" cy="356" r="3.5" fill="#888"/>
<circle cx="131" cy="349" r="3.4" fill="#222"/>
<circle cx="250" cy="368" r="5.4" fill="#444"/>
<circle cx="456" cy="380" r="6.0" fill="#444"/>
<circle cx="368" cy="361" r="5.5" fill="#888"/>
<circle cx="161" cy="349" r="3.1" fill="#222"/>
<circle cx="359" cy="345" r="4.0" fill="#666"/>
<circle cx="280" cy="335" r="5.3" fill="#666"/>
<circle cx="432" cy="337" r="3.2" fill="#333"/>
<circle cx="468" cy="382" r="4.4" fill="#888"/>
<circle cx="318" cy="359" r="3.4" fill="#444"/>
<circle cx="494" cy="370" r="5.0" fill="#222"/>
<circle cx="360" cy="381" r="4.6" fill="#888"/>
<circle cx="170" cy="342" r="6.5" fill="#222"/>
<circle cx="544" cy="367" r="4.1" fill="#333"/>
<circle cx="304" cy="384" r="6.7" fill="#333"/>
<circle cx="409" cy="368" r="3.1" fill="#444"/>
<circle cx="471" cy="357" r="4.2" fill="#444"/>
<circle cx="484" cy="378" r="6.8" fill="#333"/>
<circle cx="397" cy="357" r="5.4" fill="#444"/>
<circle cx="153" cy="370" r="6.5" fill="#888"/>
<circle cx="208" cy="355" r="5.9" fill="#333"/>
<circle cx="291" cy="382" r="5.8" fill="#444"/>
<circle cx="262" cy="351" r="5.8" fill="#888"/>
<circle cx="449" cy="352" r="4.9" fill="#666"/>
<circle cx="486" cy="365" r="3.8" fill="#333"/>
<circle cx="180" cy="377" r="3.0" fill="#666"/>
<circle cx="471" cy="387" r="4.3" fill="#666"/>
<circle cx="189" cy="363" r="7.0" fill="#666"/>
<circle cx="370" cy="364" r="5.2" fill="#333"/>
<circle cx="457" cy="348" r="3.2" fill="#888"/>
<circle cx="414" cy="347" r="6.1" fill="#333"/>
<circle cx="374" cy="391" r="6.0" fill="#444"/>
<circle cx="142" cy="374" r="3.6" fill="#444"/>
<circle cx="148" cy="344" r="6.3" fill="#333"/>
<circle cx="540" cy="378" r="6.7" fill="#888"/>
<circle cx="308" cy="386" r="5.5" fill="#444"/>
<circle cx="259" cy="367" r="4.6" fill="#333"/>
<circle cx="170" cy="351" r="6.9" fill="#333"/>
<circle cx="480" cy="384" r="4.1" fill="#333"/>
<circle cx="203" cy="350" r="4.8" fill="#888"/>
<circle cx="295" cy="379" r="4.4" fill="#333"/>
<circle cx="176" cy="356" r="4.3" fill="#888"/>
<circle cx="225" cy="373" r="5.1" fill="#444"/>
<circle cx="181" cy="369" r="3.9" fill="#666"/>
<circle cx="222" cy="387" r="6.4" fill="#666"/>
<circle cx="383" cy="381" r="6.6" fill="#222"/>
<circle cx="468" cy="364" r="6.6" fill="#666"/>
<circle cx="541" cy="349" r="5.2" fill="#888"/>
<circle cx="140" cy="360" r="5.7" fill="#888"/>
<circle cx="280" cy="363" r="5.7" fill="#888"/>
<circle cx="543" cy="354" r="5.1" fill="#222"/>
<circle cx="172" cy="373" r="5.6" fill="#333"/>
<circle cx="399" cy="373" r="4.7" fill="#888"/>
<circle cx="135" cy="371" r="7.0" fill="#666"/>
<circle cx="249" cy="338" r="3.4" fill="#666"/>
<circle cx="222" cy="389" r="6.3" fill="#333"/>
<circle cx="432" cy="384" r="4.2" fill="#666"/>
<circle cx="448" cy="335" r="6.6" fill="#888"/>
<circle cx="200" cy="346" r="6.3" fill="#444"/>
<circle cx="216" cy="362" r="3.7" fill="#333"/>
<circle cx="205" cy="351" r="7.0" fill="#222"/>
<circle cx="323" cy="359" r="3.0" fill="#333"/>
<circle cx="482" cy="362" r="6.4" fill="#333"/>
<circle cx="379" cy="362" r="3.7" fill="#333"/>
<circle cx="103" cy="351" r="6.6" fill="#333"/>
<circle cx="538" cy="362" r="4.6" fill="#222"/>
<circle cx="452" cy="379" r="5.0" fill="#222"/>
<circle cx="423" cy="369" r="5.1" fill="#888"/>
<circle cx="149" cy="344" r="3.2" fill="#222"/>
<circle cx="251" cy="341" r="3.6" fill="#444"/>
<circle cx="266" cy="372" r="4.1" fill="#222"/>
<circle cx="500" cy="339" r="3.3" fill="#444"/>
<circle cx="174" cy="368" r="3.2" fill="#888"/>
<circle cx="103" cy="347" r="4.8" fill="#333"/>
<circle cx="342" cy="376" r="3.6" fill="#333"/>
<circle cx="426" cy="349" r="6.6" fill="#888"/>
<circle cx="264" cy="384" r="6.8" fill="#888"/>
<circle cx="403" cy="361" r="5.7" fill="#333"/>
<circle cx="360" cy="378" r="6.5" fill="#888"/>
<circle cx="582" cy="366" r="3.3" fill="#444"/>
<circle cx="260" cy="372" r="6.9" fill="#666"/>
<circle cx="204" cy="373" r="4.3" fill="#888"/>
<circle cx="221" cy="383" r="6.8" fill="#888"/>
<circle cx="406" cy="346" r="4.0" fill="#444"/>
<circle cx="178" cy="366" r="4.7" fill="#666"/>
<circle cx="252" cy="347" r="3.6" fill="#444"/>
<circle cx="450" cy="371" r="6.3" fill="#444"/>
<circle cx="159" cy="355" r="6.2" fill="#444"/>
<circle cx="420" cy="377" r="5.9" fill="#888"/>
<circle cx="192" cy="345" r="4.2" fill="#888"/>
<circle cx="204" cy="362" r="4.8" fill="#444"/>
<circle cx="585" cy="351" r="5.4" fill="#888"/>
<circle cx="193" cy="352" r="4.0" fill="#333"/>
<circle cx="238" cy="361" r="6.0" fill="#333"/>
<circle cx="542" cy="377" r="5.9" fill="#888"/>
<circle cx="558" cy="367" r="3.6" fill="#222"/>
<circle cx="272" cy="368" r="3.7" fill="#444"/>
<circle cx="238" cy="384" r="3.4" fill="#333"/>
<circle cx="541" cy="348" r="6.0" fill="#444"/>
<circle cx="471" cy="369" r="3.9" fill="#444"/>
<circle cx="403" cy="345" r="4.4" fill="#888"/>
<circle cx="373" cy="334" r="6.4" fill="#444"/>
<circle cx="438" cy="357" r="4.5" fill="#666"/>
<circle cx="367" cy="359" r="5.8" fill="#888"/>
<circle cx="335" cy="390" r="4.4" fill="#222"/>
<circle cx="371" cy="371" r="6.7" fill="#444"/>
<circle cx="320" cy="356" r="3.2" fill="#444"/>
<circle cx="120" cy="373" r="3.6" fill="#222"/>
<circle cx="130" cy="354" r="6.8" fill="#333"/>
<circle cx="442" cy="343" r="5.9" fill="#666"/>
<circle cx="530" cy="351" r="5.3" fill="#222"/>
<circle cx="513" cy="379" r="5.6" fill="#222"/>
<circle cx="479" cy="346" r="5.8" fill="#444"/>
<circle cx="311" cy="357" r="4.3" fill="#666"/>
<circle cx="333" cy="353" r="5.8" fill="#888"/>
<circle cx="545" cy="362" r="3.9" fill="#333"/>
<circle cx="555" cy="378" r="4.7" fill="#666"/>
<circle cx="250" cy="338" r="6.3" fill="#888"/>
<circle cx="111" cy="361" r="3.8" fill="#333"/>
<circle cx="469" cy="340" r="5.0" fill="#444"/>
<circle cx="551" cy="369" r="6.2" fill="#666"/>
<circle cx="383" cy="373" r="6.1" fill="#444"/>
<circle cx="203" cy="358" r="3.2" fill="#666"/>
<circle cx="286" cy="369" r="5.5" fill="#444"/>
<circle cx="481" cy="381" r="5.7" fill="#444"/>
<circle cx="327" cy="360" r="5.8" fill="#444"/>
<circle cx="480" cy="355" r="4.2" fill="#444"/>
<circle cx="220" cy="354" r="5.5" fill="#222"/>
<circle cx="108" cy="354" r="3.7" fill="#444"/>
<circle cx="184" cy="350" r="6.1" fill="#444"/>
<circle cx="442" cy="373" r="4.4" fill="#444"/>
<circle cx="447" cy="398" r="4.2" fill="#111"/>
<circle cx="308" cy="377" r="3.5" fill="#333"/>
<circle cx="244" cy="398" r="4.2" fill="#111"/>
<circle cx="415" cy="397" r="6.9" fill="#555"/>
<circle cx="424" cy="402" r="6.9" fill="#333"/>
<circle cx="401" cy="403" r="4.7" fill="#222"/>
<circle cx="348" cy="379" r="4.4" fill="#111"/>
<circle cx="272" cy="377" r="6.7" fill="#333"/>
<circle cx="313" cy="386" r="6.0" fill="#111"/>
<circle cx="351" cy="370" r="4.2" fill="#222"/>
<circle cx="421" cy="388" r="6.6" fill="#222"/>
<circle cx="418" cy="404" r="4.2" fill="#333"/>
<circle cx="260" cy="405" r="4.4" fill="#222"/>
<circle cx="270" cy="405" r="4.5" fill="#333"/>
<circle cx="335" cy="397" r="5.3" fill="#555"/>
<circle cx="434" cy="379" r="5.0" fill="#555"/>
<circle cx="318" cy="368" r="5.4" fill="#111"/>
<circle cx="370" cy="401" r="3.6" fill="#555"/>
<circle cx="354" cy="395" r="4.8" fill="#222"/>
<circle cx="348" cy="406" r="3.1" fill="#555"/>
<circle cx="354" cy="397" r="3.2" fill="#555"/>
<circle cx="357" cy="388" r="3.0" fill="#222"/>
<circle cx="375" cy="386" r="4.2" fill="#555"/>
<circle cx="367" cy="373" r="5.3" fill="#555"/>
<circle cx="394" cy="399" r="4.8" fill="#222"/>
<circle cx="454" cy="388" r="5.5" fill="#111"/>
<circle cx="321" cy="378" r="5.6" fill="#555"/>
<circle cx="416" cy="387" r="5.6" fill="#333"/>
<circle cx="393" cy="379" r="5.5" fill="#222"/>
<circle cx="351" cy="412" r="5.8" fill="#222"/>
<circle cx="292" cy="380" r="5.3" fill="#555"/>
<circle cx="294" cy="401" r="4.8" fill="#333"/>
<circle cx="373" cy="399" r="6.6" fill="#111"/>
<circle cx="354" cy="414" r="5.6" fill="#222"/>
<circle cx="271" cy="390" r="5.0" fill="#555"/>
<circle cx="347" cy="410" r="3.5" fill="#111"/>
<circle cx="394" cy="376" r="6.2" fill="#222"/>
<circle cx="394" cy="379" r="5.9" fill="#111"/>
<circle cx="247" cy="375" r="5.1" fill="#555"/>
<circle cx="371" cy="379" r="3.7" fill="#222"/>
<circle cx="231" cy="384" r="3.5" fill="#111"/>
<circle cx="311" cy="395" r="3.2" fill="#222"/>
<circle cx="291" cy="394" r="3.5" fill="#111"/>
<circle cx="248" cy="377" r="5.3" fill="#333"/>
<circle cx="386" cy="410" r="4.4" fill="#111"/>
<circle cx="353" cy="385" r="4.5" fill="#333"/>
<circle cx="328" cy="387" r="5.4" fill="#111"/>
<circle cx="289" cy="403" r="5.4" fill="#111"/>
<circle cx="425" cy="383" r="4.0" fill="#222"/>
<circle cx="327" cy="389" r="7.0" fill="#555"/>
<circle cx="347" cy="394" r="3.4" fill="#333"/>
<circle cx="370" cy="408" r="4.2" fill="#555"/>
<circle cx="382" cy="376" r="4.0" fill="#333"/>
<circle cx="347" cy="391" r="4.4" fill="#222"/>
<circle cx="246" cy="393" r="3.1" fill="#111"/>
<circle cx="421" cy="401" r="5.6" fill="#555"/>
<circle cx="401" cy="372" r="5.8" fill="#555"/>
<circle cx="241" cy="406" r="5.4" fill="#111"/>
<circle cx="275" cy="405" r="4.2" fill="#222"/>
<circle cx="311" cy="389" r="3.7" fill="#333"/>
<circle cx="323" cy="378" r="4.9" fill="#333"/>
<circle cx="305" cy="405" r="4.9" fill="#222"/>
<circle cx="417" cy="394" r="6.9" fill="#111"/>
<circle cx="260" cy="377" r="3.6" fill="#555"/>
<circle cx="320" cy="409" r="4.0" fill="#222"/>
<circle cx="356" cy="392" r="5.2" fill="#111"/>
<circle cx="409" cy="377" r="5.5" fill="#111"/>
<circle cx="290" cy="402" r="6.2" fill="#222"/>
<circle cx="304" cy="380" r="6.1" fill="#333"/>
<circle cx="234" cy="391" r="4.4" fill="#555"/>
<circle cx="280" cy="409" r="5.7" fill="#555"/>
<circle cx="215" cy="391" r="6.2" fill="#333"/>
<circle cx="366" cy="401" r="6.6" fill="#555"/>
<circle cx="268" cy="400" r="6.1" fill="#222"/>
<circle cx="292" cy="387" r="5.9" fill="#333"/>
<circle cx="319" cy="374" r="6.7" fill="#333"/>
<circle cx="382" cy="397" r="6.7" fill="#222"/>
<circle cx="308" cy="405" r="4.9" fill="#555"/>
<circle cx="311" cy="369" r="6.4" fill="#333"/>
<circle cx="386" cy="385" r="4.0" fill="#111"/>
<circle cx="338" cy="373" r="3.9" fill="#111"/>
<circle cx="349" cy="407" r="3.8" fill="#333"/>
<circle cx="399" cy="377" r="3.8" fill="#111"/>
<circle cx="427" cy="388" r="3.3" fill="#333"/>
<circle cx="331" cy="390" r="4.1" fill="#111"/>
<circle cx="256" cy="374" r="3.8" fill="#333"/>
<circle cx="347" cy="389" r="4.9" fill="#333"/>
<circle cx="386" cy="412" r="6.2" fill="#111"/>
<circle cx="282" cy="382" r="5.0" fill="#555"/>
<circle cx="329" cy="408" r="3.1" fill="#333"/>
<circle cx="219" cy="383" r="3.2" fill="#333"/>
<circle cx="342" cy="395" r="3.8" fill="#111"/>
<circle cx="286" cy="403" r="4.4" fill="#222"/>
<circle cx="280" cy="376" r="4.3" fill="#333"/>
<circle cx="367" cy="377" r="3.1" fill="#333"/>
<circle cx="279" cy="378" r="5.8" fill="#333"/>
<circle cx="274" cy="405" r="4.1" fill="#333"/>
<circle cx="419" cy="393" r="5.6" fill="#333"/>
<circle cx="391" cy="407" r="4.6" fill="#111"/>
<circle cx="424" cy="385" r="3.5" fill="#222"/>
<circle cx="283" cy="389" r="6.8" fill="#333"/>
<circle cx="324" cy="369" r="6.5" fill="#222"/>
<circle cx="260" cy="389" r="5.8" fill="#555"/>
<circle cx="421" cy="390" r="5.5" fill="#333"/>
<circle cx="396" cy="383" r="3.8" fill="#111"/>
<circle cx="416" cy="405" r="3.3" fill="#555"/>
<circle cx="299" cy="379" r="3.9" fill="#555"/>
<circle cx="232" cy="404" r="6.8" fill="#222"/>
<circle cx="351" cy="393" r="5.8" fill="#222"/>
<circle cx="340" cy="403" r="6.0" fill="#333"/>
<circle cx="296" cy="415" r="3.9" fill="#222"/>
<circle cx="213" cy="395" r="6.1" fill="#222"/>
<circle cx="362" cy="381" r="4.3" fill="#555"/>
<circle cx="376" cy="383" r="4.3" fill="#555"/>
<circle cx="340" cy="397" r="6.1" fill="#333"/>
<circle cx="438" cy="398" r="4.8" fill="#555"/>
<circle cx="415" cy="374" r="4.2" fill="#111"/>
<circle cx="350" cy="383" r="6.7" fill="#222"/>
<circle cx="374" cy="387" r="5.9" fill="#111"/>
<circle cx="334" cy="376" r="4.6" fill="#555"/>
<circle cx="269" cy="411" r="5.9" fill="#333"/>
<circle cx="355" cy="391" r="3.9" fill="#111"/>
<circle cx="419" cy="396" r="3.9" fill="#555"/>
<circle cx="299" cy="373" r="3.2" fill="#333"/>
<circle cx="371" cy="395" r="6.8" fill="#222"/>
<circle cx="327" cy="392" r="3.9" fill="#222"/>
<circle cx="271" cy="379" r="7.0" fill="#333"/>
<circle cx="398" cy="372" r="3.3" fill="#222"/>
<circle cx="407" cy="373" r="3.9" fill="#111"/>
<circle cx="325" cy="402" r="4.1" fill="#111"/>
<circle cx="360" cy="438" r="3.1" fill="#555"/>
<circle cx="364" cy="437" r="4.0" fill="#111"/>
<circle cx="307" cy="427" r="4.6" fill="#555"/>
<circle cx="281" cy="452" r="5.2" fill="#333"/>
<circle cx="305" cy="447" r="4.3" fill="#111"/>
<circle cx="304" cy="449" r="4.2" fill="#111"/>
<circle cx="373" cy="430" r="3.7" fill="#555"/>
<circle cx="361" cy="435" r="4.8" fill="#333"/>
<circle cx="389" cy="439" r="5.0" fill="#111"/>
<circle cx="363" cy="424" r="5.7" fill="#111"/>
<circle cx="295" cy="449" r="5.1" fill="#333"/>
<circle cx="300" cy="436" r="5.9" fill="#111"/>
<circle cx="284" cy="443" r="4.4" fill="#333"/>
<circle cx="281" cy="428" r="3.7" fill="#555"/>
<circle cx="348" cy="420" r="4.1" fill="#111"/>
<circle cx="298" cy="450" r="4.8" fill="#555"/>
<circle cx="341" cy="435" r="5.4" fill="#555"/>
<circle cx="341" cy="457" r="3.8" fill="#333"/>
<circle cx="356" cy="430" r="4.8" fill="#555"/>
<circle cx="337" cy="448" r="5.8" fill="#555"/>
<circle cx="315" cy="448" r="3.5" fill="#333"/>
<circle cx="335" cy="449" r="5.5" fill="#333"/>
<circle cx="359" cy="459" r="5.6" fill="#555"/>
<circle cx="342" cy="437" r="4.1" fill="#333"/>
<circle cx="350" cy="446" r="3.8" fill="#111"/>
<circle cx="300" cy="453" r="4.6" fill="#333"/>
<circle cx="315" cy="442" r="4.2" fill="#333"/>
<circle cx="319" cy="426" r="4.4" fill="#111"/>
<circle cx="334" cy="431" r="5.0" fill="#333"/>
<circle cx="283" cy="441" r="4.9" fill="#555"/>
<circle cx="312" cy="451" r="3.1" fill="#111"/>
<circle cx="365" cy="440" r="4.8" fill="#333"/>
<circle cx="327" cy="429" r="4.0" fill="#111"/>
<circle cx="329" cy="454" r="4.6" fill="#333"/>
<circle cx="351" cy="432" r="4.3" fill="#333"/>
<circle cx="305" cy="431" r="3.1" fill="#333"/>
<circle cx="324" cy="443" r="5.3" fill="#333"/>
<circle cx="289" cy="447" r="3.8" fill="#111"/>
<circle cx="298" cy="451" r="5.8" fill="#111"/>
<circle cx="390" cy="437" r="4.7" fill="#111"/>
<circle cx="315" cy="429" r="3.2" fill="#333"/>
<circle cx="300" cy="451" r="4.5" fill="#555"/>
<circle cx="333" cy="436" r="4.8" fill="#333"/>
<circle cx="381" cy="433" r="4.3" fill="#333"/>
<circle cx="340" cy="445" r="4.2" fill="#111"/>
<circle cx="277" cy="439" r="5.0" fill="#555"/>
<circle cx="347" cy="455" r="5.8" fill="#333"/>
<circle cx="282" cy="434" r="5.3" fill="#111"/>
<circle cx="381" cy="451" r="4.7" fill="#111"/>
<circle cx="348" cy="444" r="5.3" fill="#555"/>
<circle cx="279" cy="446" r="3.6" fill="#333"/>
<circle cx="319" cy="441" r="5.1" fill="#333"/>
<circle cx="346" cy="433" r="4.2" fill="#111"/>
<circle cx="349" cy="434" r="4.0" fill="#555"/>
<circle cx="360" cy="439" r="4.6" fill="#555"/>
<rect x="270" y="452" width="130" height="7" fill="#333"/>
<path d="M282,140 L385,140 L385,250 Q385,290 333,306 Q282,290 282,250 Z" fill="#ddd" stroke="#222" stroke-width="7"/>
<path d="M282,192 H385 M282,245 H385 M316,140 V300 M350,140 V300" stroke="#444" stroke-width="4" fill="none"/>
<circle cx="331" cy="248" r="5.0" fill="#777"/>
<circle cx="305" cy="200" r="5.7" fill="#222"/>
<circle cx="326" cy="243" r="5.5" fill="#333"/>
<circle cx="346" cy="191" r="4.8" fill="#222"/>
<circle cx="342" cy="262" r="7.7" fill="#333"/>
<circle cx="329" cy="193" r="7.7" fill="#777"/>
<circle cx="345" cy="270" r="6.2" fill="#222"/>
<circle cx="332" cy="210" r="4.3" fill="#777"/>
<circle cx="352" cy="221" r="5.8" fill="#555"/>
<circle cx="324" cy="163" r="6.4" fill="#333"/>
<circle cx="303" cy="244" r="4.8" fill="#555"/>
<circle cx="359" cy="229" r="6.6" fill="#222"/>
<circle cx="359" cy="258" r="7.3" fill="#333"/>
<circle cx="350" cy="267" r="6.2" fill="#555"/>
<circle cx="299" cy="216" r="6.7" fill="#777"/>
<circle cx="343" cy="173" r="4.6" fill="#555"/>
<circle cx="304" cy="211" r="4.8" fill="#222"/>
<circle cx="359" cy="203" r="6.6" fill="#777"/>
<circle cx="325" cy="177" r="5.7" fill="#222"/>
<circle cx="347" cy="205" r="4.6" fill="#333"/>
<circle cx="328" cy="243" r="6.3" fill="#777"/>
<circle cx="323" cy="166" r="5.2" fill="#777"/>
<circle cx="316" cy="264" r="4.6" fill="#555"/>
<circle cx="327" cy="222" r="5.5" fill="#777"/>
<circle cx="338" cy="259" r="4.4" fill="#333"/>
<circle cx="344" cy="236" r="5.3" fill="#333"/>
<circle cx="362" cy="251" r="4.5" fill="#555"/>
<circle cx="374" cy="214" r="6.1" fill="#777"/>
<circle cx="327" cy="216" r="7.1" fill="#222"/>
<circle cx="340" cy="245" r="5.2" fill="#222"/>
<circle cx="342" cy="254" r="7.1" fill="#555"/>
<circle cx="313" cy="199" r="6.3" fill="#222"/>
<circle cx="357" cy="208" r="7.8" fill="#777"/>
<circle cx="356" cy="226" r="5.8" fill="#555"/>
<circle cx="321" cy="247" r="4.4" fill="#777"/>
<circle cx="346" cy="167" r="5.8" fill="#222"/>
<circle cx="341" cy="170" r="5.8" fill="#222"/>
<circle cx="364" cy="226" r="5.7" fill="#555"/>
<circle cx="300" cy="243" r="4.3" fill="#555"/>
<circle cx="311" cy="253" r="4.4" fill="#222"/>
<circle cx="355" cy="168" r="5.9" fill="#555"/>
<circle cx="332" cy="235" r="5.0" fill="#555"/>
<circle cx="302" cy="216" r="4.5" fill="#333"/>
<circle cx="334" cy="260" r="4.2" fill="#777"/>
<circle cx="320" cy="235" r="5.6" fill="#555"/>
<polygon points="331.0,48.0 335.8,60.1 348.2,56.3 341.7,67.6 352.4,74.9 339.6,76.9 340.5,89.8 331.0,81.0 321.5,89.8 322.4,76.9 309.6,74.9 320.3,67.6 313.8,56.3 326.2,60.1" fill="#111"/>
<rect x="304" y="100" width="58" height="13" fill="#333"/>
<path d="M243,85 L251,100 L259,82 L267,98 L284,112 L279,123 L266,127 L271,150 L280,172 L275,180 L266,172 L262,205 L257,240 L263,262 L251,298 L270,306 L214,306 L228,272 L206,292 L200,306 L92,306 L150,290 L180,250 L195,200 L220,155 L240,125 L236,100 Z" fill="#080808"/>
<path d="M404,106 L420,95 L436,100 L440,112 L432,122 L428,150 L434,170 L470,168 L506,184 L527,215 L524,240 L502,247 L493,262 L495,298 L508,306 L468,306 L481,298 L479,256 L464,250 L440,238 L420,215 L410,180 L412,140 L415,122 L402,114 Z" fill="#080808"/>
</g>
</svg></body></html>
